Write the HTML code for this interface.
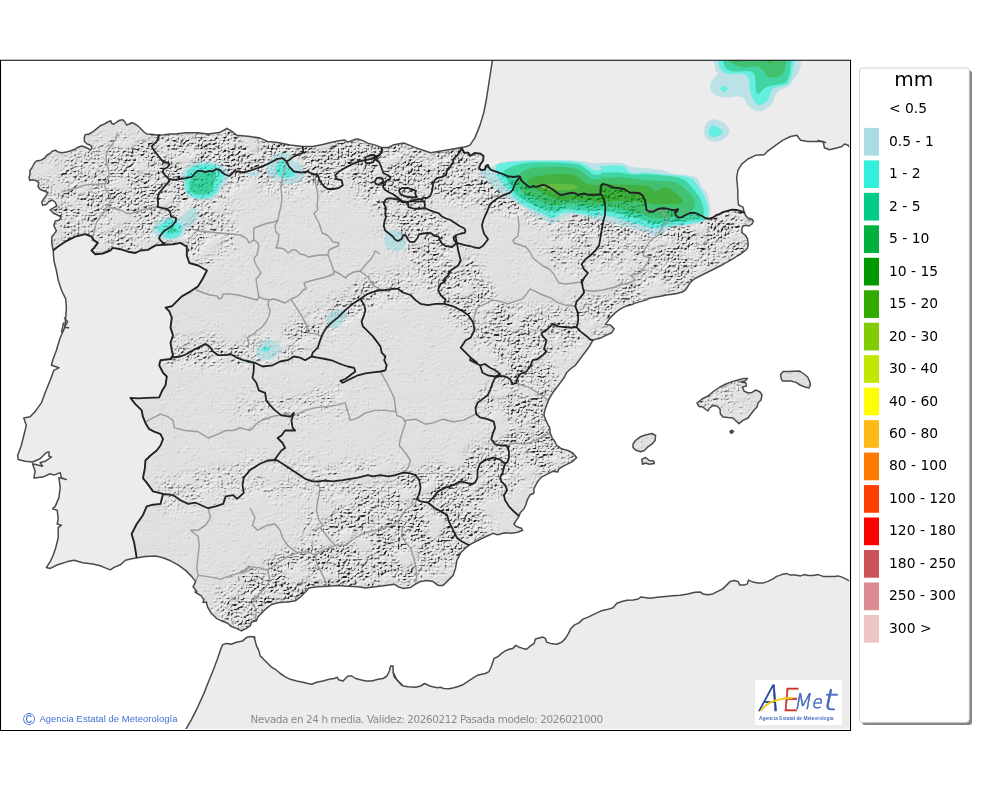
<!DOCTYPE html>
<html lang="es">
<head>
<meta charset="utf-8">
<title>Nevada en 24 h media - AEMET</title>
<style>
html,body{margin:0;padding:0;background:#fff;}
body{width:1000px;height:790px;overflow:hidden;position:relative;font-family:"DejaVu Sans","Liberation Sans",sans-serif;}
svg{position:absolute;left:0;top:0;display:block;}
.ll{font-family:"DejaVu Sans","Liberation Sans",sans-serif;font-size:13.89px;fill:#000;}
.lt{font-family:"DejaVu Sans","Liberation Sans",sans-serif;font-size:20px;fill:#000;}
.ft{font-family:"DejaVu Sans","Liberation Sans",sans-serif;font-size:10.42px;fill:#8a8a8a;}
.cp{font-family:"Liberation Sans",sans-serif;font-size:10px;fill:#3f6fd6;}
</style>
</head>
<body>
<svg width="1000" height="790" viewBox="0 0 1000 790">
<defs>
<clipPath id="frame"><rect x="0.5" y="60.5" width="848.6" height="668.4"/></clipPath>
<clipPath id="spainclip"><path d="M463.9,147.1 L460.7,147.6 L453.1,148.9 L445.6,150.2 L438.1,151.4 L430.6,152.7 L423,150.2 L415.5,147.6 L409.3,145.1 L404.2,143.1 L398,143.9 L393,145.1 L387.9,147.6 L381.7,147.6 L375.4,145.1 L367.9,143.1 L362.9,140.6 L357.9,138.9 L354.1,139.6 L347.8,142.1 L344.8,140.1 L340.3,140.6 L332.8,142.1 L322.7,144.6 L312.7,146.4 L302.7,146.4 L290.2,145.1 L277.6,142.6 L267.6,141.4 L260.1,138.1 L250,136.4 L240,135.6 L237,135.4 L231.9,131.3 L226.9,128.3 L219.4,132.6 L208.1,134.1 L198.1,132.8 L185.6,132.8 L175.5,134.1 L170,134 L164,134.8 L158,135.2 L152,134.3 L146.8,134 L143.8,131.8 L140.8,128.8 L137.8,125.8 L134.8,123.8 L131.8,122.8 L128.8,124.2 L126.5,125 L125,122 L122.8,119.8 L119.8,120.2 L116.8,122 L113.8,124.2 L111.5,123.2 L110.8,120.8 L107.8,122 L104,124.2 L100.2,125.8 L96.5,128.8 L92.8,131.8 L89,134 L85.2,134.8 L84.2,137.8 L84.5,141.5 L86.8,143.8 L90.5,145.2 L92,147.5 L90.5,150.2 L87.5,148.2 L84.5,146.8 L81.5,146 L77.8,147.2 L74.8,149.3 L71,150.8 L66.5,152 L62,152.8 L58.2,152 L55.2,150.2 L52.2,151.2 L50,153.5 L47,155 L44.8,158 L41,160.2 L36.5,161 L34.2,163.2 L32,167.8 L29.8,170.8 L30.2,173.8 L29,177.5 L29.8,180.5 L32,179.8 L35.8,180.5 L38.8,182.8 L38,186.5 L40.2,189.5 L44,191 L47.8,192.5 L46.2,195.5 L44,198.5 L41.8,202.2 L42.5,205.2 L46.2,204.5 L49.2,201.5 L52.2,200 L55.2,202.2 L56.8,206 L53,208.2 L50,209.8 L53.8,213.5 L57.5,215 L61.2,217.2 L59,220.2 L55.2,221 L53.8,225.5 L56.4,230.9 L51.9,236.7 L51.7,242.9 L53.2,250.5 L53.2,250.5 L57.7,246.7 L65.2,241.7 L75.2,236.7 L85.3,234.2 L91.5,236.7 L94,240.4 L97.8,242.9 L94,247.9 L91.5,250.5 L95.3,254.2 L102.8,253.5 L110.3,250.5 L112.8,247.9 L120.4,249.2 L127.9,251.7 L135.4,253 L140.4,250.5 L147.9,249.9 L155.5,245.4 L163,244.9 L173,244.2 L180.5,242.9 L186.8,246.7 L186.8,255.5 L189.3,263 L198.1,265.5 L206.9,270.5 L203.1,278 L201.9,280 L198.1,286.3 L190.6,291.3 L181.8,296.3 L175.5,302.6 L171.8,306.3 L165.5,307.6 L169.3,311.3 L171.8,317.6 L170.5,327.6 L173,335.2 L170.5,342.7 L171.8,350.2 L173,355.2 L170.5,359 L160.5,360.2 L159.2,365.3 L163,372.8 L166.8,376.5 L165.5,385.3 L161.7,391.6 L159.2,397.4 L147.9,397.9 L137.9,398.4 L130.4,397.9 L135.4,404.1 L141.7,410.4 L142.9,416.7 L145.4,422.9 L149.2,429.2 L154.2,431.7 L160.5,434.2 L163,439.2 L160.5,445.5 L156.7,450.5 L150.5,455.5 L145.4,460.5 L144.9,468.1 L142.9,478.1 L146.7,482.6 L153,491.4 L163,493.9 L160.5,503.9 L153,504.7 L146.7,506.4 L142.9,515.2 L136.7,524 L131.6,534 L134.2,542.8 L136.7,557.8 L137.4,557.8 L145.4,556.6 L155.5,556.1 L163,557.8 L170.5,560.8 L178,564.8 L185.6,570.4 L191.8,576.6 L195.6,581.6 L193.1,586.7 L196.8,591.7 L195,592 L201.3,595.8 L203.8,599.5 L203.1,602.5 L206.3,602 L207.6,607 L211.3,613.3 L216.4,618.3 L221.4,620.8 L227.6,623.3 L231.4,626.6 L236.4,628.4 L241.4,630.9 L246.4,628.4 L250.2,625.9 L251.5,622.1 L256.5,620.8 L257.7,617.1 L261.5,613.3 L266.5,608.3 L271.5,604.5 L279,602.5 L287.8,602 L295.3,600.8 L300.4,597 L304.1,593.3 L305.4,592 L309,587.9 L317.7,586.7 L327.8,586.2 L337.8,585.4 L347.8,586.2 L357.9,586.7 L365.4,587.9 L375.4,586.7 L385.4,585.4 L394.2,584.2 L398,586.7 L403,588.4 L410.5,587.4 L415.5,584.2 L420.5,581.6 L426.8,580.4 L433.1,581.6 L438.1,585.4 L443.1,585.4 L448.1,580.4 L453.1,575.4 L455.6,567.9 L456.9,560.3 L460.7,552.8 L465.7,547.8 L469.4,544.8 L475.7,541.5 L483.2,537.8 L490,534.8 L492.6,533.3 L497.6,534.8 L505.1,532.8 L511.4,533.3 L517.6,532.3 L522.7,530.3 L521.4,528.3 L516.4,526.5 L513.9,524 L516.4,520.2 L518.9,516.5 L520.2,512.7 L523.9,509 L525.7,505.2 L527.2,500.2 L530.2,494.7 L533.9,493.2 L533.9,488.9 L535.7,485.1 L537.7,481.4 L541.5,477.1 L547.7,473.9 L552.7,471.3 L557.8,472.1 L559,468.8 L562.8,466.3 L567.8,463.8 L572.8,461.3 L576.6,457.6 L572.8,453 L567.8,450.5 L561.5,448.8 L556.5,445 L554,440 L552.7,439.2 L550.2,433 L549.7,427.9 L546.5,421.7 L544,415.4 L544.7,410.4 L546.5,405.4 L549,399.1 L552.7,392.8 L556.5,387.8 L560.3,382.8 L564,377.8 L566.5,372.8 L570.3,369 L575.3,365.3 L579.1,360.2 L582.8,355.2 L586.6,350.2 L590.4,344.7 L592.9,340.2 L596.6,338.9 L600.4,338.2 L605.4,335.7 L611.7,332.7 L614.2,328.9 L610.4,325.1 L605.4,324.6 L606.7,322.6 L610.4,317.6 L615.4,312.6 L620.5,308.8 L625.5,306.3 L630.5,305.1 L635.5,303.1 L645.5,300.1 L650,298 L654.5,297.2 L660.5,296.2 L666.5,295 L672.5,294.2 L677,293.5 L682.2,292 L685.7,289.8 L687.5,286.8 L689.3,283.8 L692,280.8 L695,278.5 L698,277 L701,275.5 L704,274 L707,272.5 L710,271 L713,269.5 L716,268 L719,266.5 L722,265 L725,263.2 L728,261.7 L731,259.8 L734,258.2 L737,256 L740,254.5 L743,252.2 L746,250 L747.5,247.8 L748.2,244 L747.5,238.8 L745.2,235 L742.2,232.8 L741.8,229 L743,226 L746,225.2 L749,226 L752,223.8 L753.5,221.2 L752,219.2 L747.5,217.8 L745.2,214.8 L744.2,212.2 L744.2,212.2 L744.3,212.7 L741,211.2 L736.5,210 L732,209.7 L727.5,210.8 L723,212.2 L720,213.8 L716.2,215.2 L713.2,217.5 L709.5,218.7 L705.8,218.2 L702,216 L697.5,213.8 L693.8,212.7 L690,213 L685.5,215.2 L681.8,217.2 L678,217.5 L675.8,215.2 L675,212.2 L677.2,211.5 L678,209.2 L675.8,210 L672,210 L667.5,208.8 L663,208.2 L658.5,208.8 L654,211.2 L649.5,211.8 L646.5,210 L645.8,205.5 L645,200.2 L642.8,195.8 L639.8,193.2 L634.5,192.8 L630,192.8 L627.8,191.2 L624,189 L619.5,188.2 L613.5,187.5 L607.5,185.2 L603,183.8 L601.2,185.2 L600.5,189 L600.5,194.2 L596,194.7 L591.5,194.7 L587,194.7 L584,193.5 L581,194.2 L578,195 L575,193.2 L572,192.8 L567.5,193.5 L563.8,194.7 L560,194.7 L557,192.8 L553.2,189.8 L549.5,187.5 L546.5,185.7 L542.8,184.8 L539,186 L536,186.8 L533,186 L530,187.5 L527,185.2 L523.2,182.2 L521,180 L520.2,177 L518,176.2 L513.5,177 L507.5,176.2 L501.5,173.7 L495.5,171.3 L491,169.8 L489.2,168 L488,165 L485.8,165.8 L485,169.5 L481.2,170.2 L479,168 L480.5,164.2 L483.2,160.5 L483.5,156 L480.5,153.8 L474.5,153 L470,156 L468.5,152.8 L464,152.5 L461.7,148ZM697,403 L702,399 L708,396 L714,391 L720,387 L726,384 L732,381.6 L738,380 L744,378.4 L747.6,378.4 L745,381 L741,382 L746,383 L746.4,386 L742.4,387 L744,391 L748,393 L752,392.4 L756,390 L760,392 L762,395 L761,400 L758,403 L757,407 L754,410 L751,414 L748,418 L743,420.4 L739,423.6 L735,420 L733,418 L728,417.6 L723,417 L720.4,414 L720,409 L717,406 L713,405.6 L709.6,408 L708,411 L705,409 L703,407 L699,406.4 L697,403ZM780.6,374.4 L783,371.6 L788,371.6 L794,371.2 L799,371 L801,372 L804,374 L807.6,377 L809.6,381 L810.4,385 L809,388 L805,387 L800,385 L796,382.4 L791,381 L786,381 L782.4,381 L781,378 L780.6,374.4ZM633,444.2 L635.5,440.5 L640.5,436.7 L645.5,435 L651.8,433.5 L655.6,435.5 L655.1,440.5 L651.8,444.2 L648,446.8 L644.3,450.5 L640.5,451.8 L635.5,450 L633,447.5ZM641.8,459.3 L645.5,457.5 L649.3,460.5 L653.6,461 L654.3,463.6 L649.3,464.3 L645.5,463 L642.5,464.3ZM730,431.6 L731.6,430.2 L733.4,431.2 L732.4,433 L730.6,433Z"/></clipPath>

<filter id="mblur" x="-50" y="0" width="1000" height="790" filterUnits="userSpaceOnUse"><feGaussianBlur stdDeviation="8"/></filter>
<filter id="relief" x="0" y="60" width="852" height="671" filterUnits="userSpaceOnUse" color-interpolation-filters="sRGB">
<feTurbulence type="fractalNoise" baseFrequency="0.045 0.06" numOctaves="2" seed="4" result="lf"/>
<feColorMatrix in="lf" type="matrix" values="0 0 0 0 0  0 0 0 0 0  0 0 0 0 0  0 0 0 3.2 -0.7" result="lfa"/>
<feComposite in="SourceGraphic" in2="lfa" operator="in" result="m2"/>
<feTurbulence type="turbulence" baseFrequency="0.3 0.36" numOctaves="3" seed="11" result="n"/>
<feComposite in="n" in2="m2" operator="arithmetic" k1="1" k2="0" k3="-0.5" k4="0.5" result="h"/>
<feDiffuseLighting in="h" surfaceScale="4.6" diffuseConstant="1.0" lighting-color="#fff" result="lit"><feDistantLight azimuth="235" elevation="52"/></feDiffuseLighting>
<feComponentTransfer><feFuncR type="table" tableValues="0.14 0.27 0.4 0.53 0.65 0.75 0.82 0.867 0.88 0.905 0.955"/><feFuncG type="table" tableValues="0.14 0.27 0.4 0.53 0.65 0.75 0.82 0.867 0.88 0.905 0.955"/><feFuncB type="table" tableValues="0.14 0.27 0.4 0.53 0.65 0.75 0.82 0.867 0.88 0.905 0.955"/></feComponentTransfer>
<feGaussianBlur stdDeviation="0.4"/>
</filter>

</defs>
<rect x="0" y="0" width="1000" height="790" fill="#fff"/>
<g clip-path="url(#frame)">
<path d="M492.5,59.5 L486.3,100 L483.8,112.5 L480,125.1 L475,137.6 L470,145.1 L466.5,146.5 L463.9,147.1 L460.7,147.6 L453.1,148.9 L445.6,150.2 L438.1,151.4 L430.6,152.7 L423,150.2 L415.5,147.6 L409.3,145.1 L404.2,143.1 L398,143.9 L393,145.1 L387.9,147.6 L381.7,147.6 L375.4,145.1 L367.9,143.1 L362.9,140.6 L357.9,138.9 L354.1,139.6 L347.8,142.1 L344.8,140.1 L340.3,140.6 L332.8,142.1 L322.7,144.6 L312.7,146.4 L302.7,146.4 L290.2,145.1 L277.6,142.6 L267.6,141.4 L260.1,138.1 L250,136.4 L240,135.6 L237,135.4 L231.9,131.3 L226.9,128.3 L219.4,132.6 L208.1,134.1 L198.1,132.8 L185.6,132.8 L175.5,134.1 L170,134 L164,134.8 L158,135.2 L152,134.3 L146.8,134 L143.8,131.8 L140.8,128.8 L137.8,125.8 L134.8,123.8 L131.8,122.8 L128.8,124.2 L126.5,125 L125,122 L122.8,119.8 L119.8,120.2 L116.8,122 L113.8,124.2 L111.5,123.2 L110.8,120.8 L107.8,122 L104,124.2 L100.2,125.8 L96.5,128.8 L92.8,131.8 L89,134 L85.2,134.8 L84.2,137.8 L84.5,141.5 L86.8,143.8 L90.5,145.2 L92,147.5 L90.5,150.2 L87.5,148.2 L84.5,146.8 L81.5,146 L77.8,147.2 L74.8,149.3 L71,150.8 L66.5,152 L62,152.8 L58.2,152 L55.2,150.2 L52.2,151.2 L50,153.5 L47,155 L44.8,158 L41,160.2 L36.5,161 L34.2,163.2 L32,167.8 L29.8,170.8 L30.2,173.8 L29,177.5 L29.8,180.5 L32,179.8 L35.8,180.5 L38.8,182.8 L38,186.5 L40.2,189.5 L44,191 L47.8,192.5 L46.2,195.5 L44,198.5 L41.8,202.2 L42.5,205.2 L46.2,204.5 L49.2,201.5 L52.2,200 L55.2,202.2 L56.8,206 L53,208.2 L50,209.8 L53.8,213.5 L57.5,215 L61.2,217.2 L59,220.2 L55.2,221 L53.8,225.5 L56.4,230.9 L51.9,236.7 L51.7,242.9 L53.2,250.5 L53.9,260.5 L56.4,270.5 L58.2,280 L58.2,280 L61.4,290 L65.7,298.8 L66.4,307.6 L65.7,317.6 L64.7,327.6 L60.2,337.7 L56.4,350.2 L52.7,360.2 L51.4,365.3 L58.9,367.8 L53.9,370.3 L50.2,380.3 L45.1,392.8 L41.4,402.9 L35.1,411.6 L30.1,416.7 L23.8,417.9 L26.3,425.4 L23.8,435.5 L21.3,445.5 L18.1,454.3 L17.6,455 L18.1,459.5 L25.1,461.3 L32.6,462 L40.1,458.8 L46.4,452.5 L49.1,452 L48.9,456.3 L51.4,457 L45.1,461.3 L40.1,462.5 L42.6,466.3 L37.6,465 L32.6,463.8 L35.1,471.3 L33.9,478.1 L42.6,477.1 L50.2,473.8 L53.9,475.1 L60.2,472.6 L61.4,477.6 L66.4,479.6 L58.9,477.6 L60.2,487.6 L58.9,497.6 L55.2,506.4 L52.7,508.9 L57.2,510.2 L58.2,519 L57.2,524 L61.4,525.2 L58.2,527.7 L58.2,537.8 L55.7,547.8 L53.2,555.3 L50.2,561.6 L46.4,567.4 L50.2,568.4 L57.7,564.8 L67.7,561.6 L74,560.3 L82.7,562.8 L92.8,564.1 L100.3,565.8 L105.3,567.9 L110.3,569.9 L114.1,567.4 L120.4,564.8 L125.4,560.3 L130.4,559.1 L137.4,557.8 L137.4,557.8 L145.4,556.6 L155.5,556.1 L163,557.8 L170.5,560.8 L178,564.8 L185.6,570.4 L191.8,576.6 L195.6,581.6 L193.1,586.7 L196.8,591.7 L195,592 L201.3,595.8 L203.8,599.5 L203.1,602.5 L206.3,602 L207.6,607 L211.3,613.3 L216.4,618.3 L221.4,620.8 L227.6,623.3 L231.4,626.6 L236.4,628.4 L241.4,630.9 L246.4,628.4 L250.2,625.9 L251.5,622.1 L256.5,620.8 L257.7,617.1 L261.5,613.3 L266.5,608.3 L271.5,604.5 L279,602.5 L287.8,602 L295.3,600.8 L300.4,597 L304.1,593.3 L305.4,592 L309,587.9 L317.7,586.7 L327.8,586.2 L337.8,585.4 L347.8,586.2 L357.9,586.7 L365.4,587.9 L375.4,586.7 L385.4,585.4 L394.2,584.2 L398,586.7 L403,588.4 L410.5,587.4 L415.5,584.2 L420.5,581.6 L426.8,580.4 L433.1,581.6 L438.1,585.4 L443.1,585.4 L448.1,580.4 L453.1,575.4 L455.6,567.9 L456.9,560.3 L460.7,552.8 L465.7,547.8 L469.4,544.8 L475.7,541.5 L483.2,537.8 L490,534.8 L492.6,533.3 L497.6,534.8 L505.1,532.8 L511.4,533.3 L517.6,532.3 L522.7,530.3 L521.4,528.3 L516.4,526.5 L513.9,524 L516.4,520.2 L518.9,516.5 L520.2,512.7 L523.9,509 L525.7,505.2 L527.2,500.2 L530.2,494.7 L533.9,493.2 L533.9,488.9 L535.7,485.1 L537.7,481.4 L541.5,477.1 L547.7,473.9 L552.7,471.3 L557.8,472.1 L559,468.8 L562.8,466.3 L567.8,463.8 L572.8,461.3 L576.6,457.6 L572.8,453 L567.8,450.5 L561.5,448.8 L556.5,445 L554,440 L552.7,439.2 L550.2,433 L549.7,427.9 L546.5,421.7 L544,415.4 L544.7,410.4 L546.5,405.4 L549,399.1 L552.7,392.8 L556.5,387.8 L560.3,382.8 L564,377.8 L566.5,372.8 L570.3,369 L575.3,365.3 L579.1,360.2 L582.8,355.2 L586.6,350.2 L590.4,344.7 L592.9,340.2 L596.6,338.9 L600.4,338.2 L605.4,335.7 L611.7,332.7 L614.2,328.9 L610.4,325.1 L605.4,324.6 L606.7,322.6 L610.4,317.6 L615.4,312.6 L620.5,308.8 L625.5,306.3 L630.5,305.1 L635.5,303.1 L645.5,300.1 L650,298 L654.5,297.2 L660.5,296.2 L666.5,295 L672.5,294.2 L677,293.5 L682.2,292 L685.7,289.8 L687.5,286.8 L689.3,283.8 L692,280.8 L695,278.5 L698,277 L701,275.5 L704,274 L707,272.5 L710,271 L713,269.5 L716,268 L719,266.5 L722,265 L725,263.2 L728,261.7 L731,259.8 L734,258.2 L737,256 L740,254.5 L743,252.2 L746,250 L747.5,247.8 L748.2,244 L747.5,238.8 L745.2,235 L742.2,232.8 L741.8,229 L743,226 L746,225.2 L749,226 L752,223.8 L753.5,221.2 L752,219.2 L747.5,217.8 L745.2,214.8 L744.2,212.2 L743,207.2 L738.5,205 L737.8,197.5 L737.8,190 L736.7,177.9 L737.9,170.3 L741.7,164.1 L747.9,159 L755.5,155.3 L764.2,154.8 L768,150.8 L775.5,145.3 L783,140.2 L790.6,136.5 L796.8,135.2 L800.6,140.2 L808.1,141.5 L815.6,141.5 L823.2,141.5 L824.4,147.8 L829.4,149.8 L835.7,148.3 L842,146.5 L844.5,144 L848.2,145.3 L850,147.8 L852,148 L852,59.5Z" fill="#ececec"/>
<path d="M185.5,729.9 L191.3,719.9 L197.6,707.3 L203.8,693.6 L208.8,681 L213.9,668.5 L217.6,658.4 L220.1,650.9 L222.6,644.7 L226.4,643.4 L231.4,644.2 L236.4,642.2 L242.7,640.9 L246.4,637.6 L250.2,636.6 L254,637.1 L255.2,640.9 L256.5,645.9 L259,650.9 L260.2,655.9 L264,659.7 L267.8,663.5 L271.5,667.2 L276.5,670.2 L280.3,673.5 L285.3,676.8 L290.3,679.3 L296.6,681 L302.9,682.3 L307.9,683.5 L311.6,684.3 L316.7,682.3 L322.9,681 L329.2,679.3 L334.2,678.5 L337.5,677.3 L338.5,679.8 L343,681 L345.5,678.5 L348,676 L351.8,676 L355.5,678.5 L360.5,679.8 L365.6,681 L371.8,681 L378.1,679.3 L383.1,678.5 L386.9,676 L389.4,671 L390.6,666 L393.1,666 L393.1,672.2 L394.4,677.3 L398.2,681 L403.2,686 L408.2,686.8 L415.7,687.3 L420.7,686 L424.5,683.5 L430,686 L432.6,686.8 L437.6,687.8 L440.1,687.3 L443.9,688.5 L448.9,688.8 L453.9,687.8 L458.9,686.3 L462.7,684.8 L466.4,682.3 L470.2,679.8 L474,677.3 L477.7,675.2 L481.5,674.2 L485.3,673.5 L489,671.7 L491.5,666 L494,658.4 L497.8,656.7 L501.6,653.4 L505.3,650.9 L509.1,649.2 L512.8,648.4 L515.8,645.4 L519.1,647.2 L522.9,648.4 L526.6,649.2 L530.4,645.9 L534.2,643.4 L535.4,638.9 L539.2,637.9 L542.9,637.1 L545.4,638.4 L546.7,642.2 L550.5,643.4 L556.7,644.2 L561.7,642.2 L565.5,638.4 L568.5,633.4 L570.5,629.1 L574.3,625.1 L579.3,622.6 L583,619.1 L588.1,617.1 L594.3,614.1 L600.6,611.1 L606.9,609.6 L613.1,607.8 L616.9,603.3 L621.9,601.5 L626.9,600.3 L633.2,600 L638.2,599 L640.7,597 L644.5,597.5 L650,598.3 L657.6,597.2 L665.1,596.4 L672.7,595.7 L680.2,595.2 L687.7,593.9 L695.2,592.2 L700.2,591.9 L702.7,593.9 L707.8,594.7 L712.8,593.9 L717.8,591.4 L722.8,588.9 L726.6,585.1 L730.3,581.4 L734.1,580.6 L737.9,581.4 L739.9,585.1 L744.1,585.1 L747.4,583.9 L748.4,580.1 L752.9,582.1 L757.9,583.1 L762.9,583.1 L767.9,581.4 L773,578.9 L776.7,576.4 L781.7,574.6 L786.8,573.6 L790.5,575.1 L795.5,575.1 L800.5,575.9 L804.3,574.6 L808.1,575.6 L813.1,575.6 L818.1,574.6 L823.1,576.4 L828.1,576.4 L834.4,576.4 L838.2,575.9 L841.9,577.1 L845.7,578.9 L850.2,581.4 L852,581 L852,731 L185.5,731Z" fill="#ececec"/>
<path d="M463.9,147.1 L460.7,147.6 L453.1,148.9 L445.6,150.2 L438.1,151.4 L430.6,152.7 L423,150.2 L415.5,147.6 L409.3,145.1 L404.2,143.1 L398,143.9 L393,145.1 L387.9,147.6 L381.7,147.6 L375.4,145.1 L367.9,143.1 L362.9,140.6 L357.9,138.9 L354.1,139.6 L347.8,142.1 L344.8,140.1 L340.3,140.6 L332.8,142.1 L322.7,144.6 L312.7,146.4 L302.7,146.4 L290.2,145.1 L277.6,142.6 L267.6,141.4 L260.1,138.1 L250,136.4 L240,135.6 L237,135.4 L231.9,131.3 L226.9,128.3 L219.4,132.6 L208.1,134.1 L198.1,132.8 L185.6,132.8 L175.5,134.1 L170,134 L164,134.8 L158,135.2 L152,134.3 L146.8,134 L143.8,131.8 L140.8,128.8 L137.8,125.8 L134.8,123.8 L131.8,122.8 L128.8,124.2 L126.5,125 L125,122 L122.8,119.8 L119.8,120.2 L116.8,122 L113.8,124.2 L111.5,123.2 L110.8,120.8 L107.8,122 L104,124.2 L100.2,125.8 L96.5,128.8 L92.8,131.8 L89,134 L85.2,134.8 L84.2,137.8 L84.5,141.5 L86.8,143.8 L90.5,145.2 L92,147.5 L90.5,150.2 L87.5,148.2 L84.5,146.8 L81.5,146 L77.8,147.2 L74.8,149.3 L71,150.8 L66.5,152 L62,152.8 L58.2,152 L55.2,150.2 L52.2,151.2 L50,153.5 L47,155 L44.8,158 L41,160.2 L36.5,161 L34.2,163.2 L32,167.8 L29.8,170.8 L30.2,173.8 L29,177.5 L29.8,180.5 L32,179.8 L35.8,180.5 L38.8,182.8 L38,186.5 L40.2,189.5 L44,191 L47.8,192.5 L46.2,195.5 L44,198.5 L41.8,202.2 L42.5,205.2 L46.2,204.5 L49.2,201.5 L52.2,200 L55.2,202.2 L56.8,206 L53,208.2 L50,209.8 L53.8,213.5 L57.5,215 L61.2,217.2 L59,220.2 L55.2,221 L53.8,225.5 L56.4,230.9 L51.9,236.7 L51.7,242.9 L53.2,250.5 L53.2,250.5 L57.7,246.7 L65.2,241.7 L75.2,236.7 L85.3,234.2 L91.5,236.7 L94,240.4 L97.8,242.9 L94,247.9 L91.5,250.5 L95.3,254.2 L102.8,253.5 L110.3,250.5 L112.8,247.9 L120.4,249.2 L127.9,251.7 L135.4,253 L140.4,250.5 L147.9,249.9 L155.5,245.4 L163,244.9 L173,244.2 L180.5,242.9 L186.8,246.7 L186.8,255.5 L189.3,263 L198.1,265.5 L206.9,270.5 L203.1,278 L201.9,280 L198.1,286.3 L190.6,291.3 L181.8,296.3 L175.5,302.6 L171.8,306.3 L165.5,307.6 L169.3,311.3 L171.8,317.6 L170.5,327.6 L173,335.2 L170.5,342.7 L171.8,350.2 L173,355.2 L170.5,359 L160.5,360.2 L159.2,365.3 L163,372.8 L166.8,376.5 L165.5,385.3 L161.7,391.6 L159.2,397.4 L147.9,397.9 L137.9,398.4 L130.4,397.9 L135.4,404.1 L141.7,410.4 L142.9,416.7 L145.4,422.9 L149.2,429.2 L154.2,431.7 L160.5,434.2 L163,439.2 L160.5,445.5 L156.7,450.5 L150.5,455.5 L145.4,460.5 L144.9,468.1 L142.9,478.1 L146.7,482.6 L153,491.4 L163,493.9 L160.5,503.9 L153,504.7 L146.7,506.4 L142.9,515.2 L136.7,524 L131.6,534 L134.2,542.8 L136.7,557.8 L137.4,557.8 L145.4,556.6 L155.5,556.1 L163,557.8 L170.5,560.8 L178,564.8 L185.6,570.4 L191.8,576.6 L195.6,581.6 L193.1,586.7 L196.8,591.7 L195,592 L201.3,595.8 L203.8,599.5 L203.1,602.5 L206.3,602 L207.6,607 L211.3,613.3 L216.4,618.3 L221.4,620.8 L227.6,623.3 L231.4,626.6 L236.4,628.4 L241.4,630.9 L246.4,628.4 L250.2,625.9 L251.5,622.1 L256.5,620.8 L257.7,617.1 L261.5,613.3 L266.5,608.3 L271.5,604.5 L279,602.5 L287.8,602 L295.3,600.8 L300.4,597 L304.1,593.3 L305.4,592 L309,587.9 L317.7,586.7 L327.8,586.2 L337.8,585.4 L347.8,586.2 L357.9,586.7 L365.4,587.9 L375.4,586.7 L385.4,585.4 L394.2,584.2 L398,586.7 L403,588.4 L410.5,587.4 L415.5,584.2 L420.5,581.6 L426.8,580.4 L433.1,581.6 L438.1,585.4 L443.1,585.4 L448.1,580.4 L453.1,575.4 L455.6,567.9 L456.9,560.3 L460.7,552.8 L465.7,547.8 L469.4,544.8 L475.7,541.5 L483.2,537.8 L490,534.8 L492.6,533.3 L497.6,534.8 L505.1,532.8 L511.4,533.3 L517.6,532.3 L522.7,530.3 L521.4,528.3 L516.4,526.5 L513.9,524 L516.4,520.2 L518.9,516.5 L520.2,512.7 L523.9,509 L525.7,505.2 L527.2,500.2 L530.2,494.7 L533.9,493.2 L533.9,488.9 L535.7,485.1 L537.7,481.4 L541.5,477.1 L547.7,473.9 L552.7,471.3 L557.8,472.1 L559,468.8 L562.8,466.3 L567.8,463.8 L572.8,461.3 L576.6,457.6 L572.8,453 L567.8,450.5 L561.5,448.8 L556.5,445 L554,440 L552.7,439.2 L550.2,433 L549.7,427.9 L546.5,421.7 L544,415.4 L544.7,410.4 L546.5,405.4 L549,399.1 L552.7,392.8 L556.5,387.8 L560.3,382.8 L564,377.8 L566.5,372.8 L570.3,369 L575.3,365.3 L579.1,360.2 L582.8,355.2 L586.6,350.2 L590.4,344.7 L592.9,340.2 L596.6,338.9 L600.4,338.2 L605.4,335.7 L611.7,332.7 L614.2,328.9 L610.4,325.1 L605.4,324.6 L606.7,322.6 L610.4,317.6 L615.4,312.6 L620.5,308.8 L625.5,306.3 L630.5,305.1 L635.5,303.1 L645.5,300.1 L650,298 L654.5,297.2 L660.5,296.2 L666.5,295 L672.5,294.2 L677,293.5 L682.2,292 L685.7,289.8 L687.5,286.8 L689.3,283.8 L692,280.8 L695,278.5 L698,277 L701,275.5 L704,274 L707,272.5 L710,271 L713,269.5 L716,268 L719,266.5 L722,265 L725,263.2 L728,261.7 L731,259.8 L734,258.2 L737,256 L740,254.5 L743,252.2 L746,250 L747.5,247.8 L748.2,244 L747.5,238.8 L745.2,235 L742.2,232.8 L741.8,229 L743,226 L746,225.2 L749,226 L752,223.8 L753.5,221.2 L752,219.2 L747.5,217.8 L745.2,214.8 L744.2,212.2 L744.2,212.2 L744.3,212.7 L741,211.2 L736.5,210 L732,209.7 L727.5,210.8 L723,212.2 L720,213.8 L716.2,215.2 L713.2,217.5 L709.5,218.7 L705.8,218.2 L702,216 L697.5,213.8 L693.8,212.7 L690,213 L685.5,215.2 L681.8,217.2 L678,217.5 L675.8,215.2 L675,212.2 L677.2,211.5 L678,209.2 L675.8,210 L672,210 L667.5,208.8 L663,208.2 L658.5,208.8 L654,211.2 L649.5,211.8 L646.5,210 L645.8,205.5 L645,200.2 L642.8,195.8 L639.8,193.2 L634.5,192.8 L630,192.8 L627.8,191.2 L624,189 L619.5,188.2 L613.5,187.5 L607.5,185.2 L603,183.8 L601.2,185.2 L600.5,189 L600.5,194.2 L596,194.7 L591.5,194.7 L587,194.7 L584,193.5 L581,194.2 L578,195 L575,193.2 L572,192.8 L567.5,193.5 L563.8,194.7 L560,194.7 L557,192.8 L553.2,189.8 L549.5,187.5 L546.5,185.7 L542.8,184.8 L539,186 L536,186.8 L533,186 L530,187.5 L527,185.2 L523.2,182.2 L521,180 L520.2,177 L518,176.2 L513.5,177 L507.5,176.2 L501.5,173.7 L495.5,171.3 L491,169.8 L489.2,168 L488,165 L485.8,165.8 L485,169.5 L481.2,170.2 L479,168 L480.5,164.2 L483.2,160.5 L483.5,156 L480.5,153.8 L474.5,153 L470,156 L468.5,152.8 L464,152.5 L461.7,148ZM697,403 L702,399 L708,396 L714,391 L720,387 L726,384 L732,381.6 L738,380 L744,378.4 L747.6,378.4 L745,381 L741,382 L746,383 L746.4,386 L742.4,387 L744,391 L748,393 L752,392.4 L756,390 L760,392 L762,395 L761,400 L758,403 L757,407 L754,410 L751,414 L748,418 L743,420.4 L739,423.6 L735,420 L733,418 L728,417.6 L723,417 L720.4,414 L720,409 L717,406 L713,405.6 L709.6,408 L708,411 L705,409 L703,407 L699,406.4 L697,403ZM780.6,374.4 L783,371.6 L788,371.6 L794,371.2 L799,371 L801,372 L804,374 L807.6,377 L809.6,381 L810.4,385 L809,388 L805,387 L800,385 L796,382.4 L791,381 L786,381 L782.4,381 L781,378 L780.6,374.4ZM633,444.2 L635.5,440.5 L640.5,436.7 L645.5,435 L651.8,433.5 L655.6,435.5 L655.1,440.5 L651.8,444.2 L648,446.8 L644.3,450.5 L640.5,451.8 L635.5,450 L633,447.5ZM641.8,459.3 L645.5,457.5 L649.3,460.5 L653.6,461 L654.3,463.6 L649.3,464.3 L645.5,463 L642.5,464.3ZM730,431.6 L731.6,430.2 L733.4,431.2 L732.4,433 L730.6,433Z" fill="#fdfdfd"/>
<g clip-path="url(#spainclip)"><g filter="url(#relief)"><g filter="url(#mblur)" opacity="1"><rect x="0" y="60" width="852" height="671" fill="#000" opacity="0.16"/><path d="M150,165 L200,160 L250,158 L330,162 L400,168 L460,170" fill="none" stroke="#000" stroke-opacity="1.0" stroke-width="56" stroke-linecap="round" stroke-linejoin="round"/><path d="M60,195 L100,175 L150,165" fill="none" stroke="#000" stroke-opacity="0.7" stroke-width="60" stroke-linecap="round" stroke-linejoin="round"/><path d="M75,230 L150,215 L195,225" fill="none" stroke="#000" stroke-opacity="0.65" stroke-width="80" stroke-linecap="round" stroke-linejoin="round"/><path d="M170,190 L185,240" fill="none" stroke="#000" stroke-opacity="0.8" stroke-width="44" stroke-linecap="round" stroke-linejoin="round"/><path d="M470,175 L540,190 L620,205 L700,222 L745,228" fill="none" stroke="#000" stroke-opacity="1.0" stroke-width="56" stroke-linecap="round" stroke-linejoin="round"/><path d="M560,250 L640,245 L710,245" fill="none" stroke="#000" stroke-opacity="0.6" stroke-width="40" stroke-linecap="round" stroke-linejoin="round"/><path d="M400,210 L430,245 L455,280 L490,320 L520,350 L535,390" fill="none" stroke="#000" stroke-opacity="0.8" stroke-width="50" stroke-linecap="round" stroke-linejoin="round"/><path d="M520,330 L560,330 L600,315 L650,290 L700,265 L735,240" fill="none" stroke="#000" stroke-opacity="0.75" stroke-width="40" stroke-linecap="round" stroke-linejoin="round"/><path d="M165,352 L215,352 L260,352 L300,340 L335,314 L365,294 L400,286" fill="none" stroke="#000" stroke-opacity="1.0" stroke-width="20" stroke-linecap="round" stroke-linejoin="round"/><path d="M250,410 L300,405 L340,400" fill="none" stroke="#000" stroke-opacity="0.45" stroke-width="24" stroke-linecap="round" stroke-linejoin="round"/><path d="M170,495 L230,480 L300,478 L370,480 L420,485" fill="none" stroke="#000" stroke-opacity="0.5" stroke-width="30" stroke-linecap="round" stroke-linejoin="round"/><path d="M245,605 L280,585 L320,575 L370,565 L420,550 L460,525" fill="none" stroke="#000" stroke-opacity="1.0" stroke-width="56" stroke-linecap="round" stroke-linejoin="round"/><path d="M330,530 L380,515 L430,500 L470,480 L520,455 L565,448" fill="none" stroke="#000" stroke-opacity="0.8" stroke-width="50" stroke-linecap="round" stroke-linejoin="round"/><path d="M500,400 L530,420 L540,445" fill="none" stroke="#000" stroke-opacity="0.7" stroke-width="40" stroke-linecap="round" stroke-linejoin="round"/><path d="M700,400 L720,388 L745,380" fill="none" stroke="#000" stroke-opacity="1.0" stroke-width="14" stroke-linecap="round" stroke-linejoin="round"/><path d="M633,448 L637,446 L645,441" fill="none" stroke="#000" stroke-opacity="0.6" stroke-width="8" stroke-linecap="round" stroke-linejoin="round"/><path d="M715,405 L730,410 L745,405" fill="none" stroke="#000" stroke-opacity="0.35" stroke-width="14" stroke-linecap="round" stroke-linejoin="round"/><path d="M785,376 L805,380" fill="none" stroke="#000" stroke-opacity="0.3" stroke-width="6" stroke-linecap="round" stroke-linejoin="round"/></g></g></g>
<g opacity="0.72"><path d="M479.8,171.0 C479.8,169.4 482.9,169.6 485.0,168.8 C487.1,168.1 490.0,167.5 492.5,166.5 C495.0,165.5 497.2,163.7 500.0,162.8 C502.8,161.9 505.2,161.6 509.0,161.2 C512.8,160.8 517.8,160.7 522.5,160.5 C527.2,160.3 532.5,160.2 537.5,160.2 C542.5,160.1 547.5,160.2 552.5,160.2 C557.5,160.2 563.2,160.1 567.5,160.2 C571.8,160.3 574.8,160.5 578.0,160.8 C581.2,161.1 584.2,161.6 587.0,162.0 C589.8,162.4 592.3,163.4 594.5,163.5 C596.7,163.6 597.6,162.9 600.0,162.8 C602.4,162.7 605.8,162.8 609.0,162.8 C612.2,162.8 616.8,162.6 619.5,162.8 C622.2,163.0 623.8,163.6 625.5,164.2 C627.2,164.8 628.0,165.9 630.0,166.5 C632.0,167.1 635.0,167.4 637.5,167.7 C640.0,167.9 642.2,167.8 645.0,168.0 C647.8,168.2 651.0,168.8 654.0,169.2 C657.0,169.6 660.5,169.6 663.0,170.2 C665.5,170.8 667.0,171.9 669.0,172.5 C671.0,173.1 672.5,173.6 675.0,174.0 C677.5,174.4 681.0,174.4 684.0,174.8 C687.0,175.2 690.8,175.6 693.0,176.2 C695.2,176.8 696.4,177.4 697.5,178.5 C698.6,179.6 699.0,181.5 699.8,183.0 C700.5,184.5 701.0,186.1 702.0,187.5 C703.0,188.9 704.8,189.7 705.8,191.2 C706.8,192.7 707.4,194.6 708.0,196.5 C708.6,198.4 709.0,200.2 709.5,202.5 C710.0,204.8 710.6,208.0 710.7,210.0 C710.8,212.0 710.7,213.1 710.2,214.5 C709.8,215.9 708.9,217.7 708.0,218.7 C707.1,219.7 706.8,219.7 705.0,220.5 C703.2,221.3 700.0,222.8 697.5,223.5 C695.0,224.2 692.5,224.6 690.0,225.0 C687.5,225.4 685.0,225.6 682.5,225.8 C680.0,226.1 677.5,225.9 675.0,226.5 C672.5,227.1 670.0,228.2 667.5,229.5 C665.0,230.8 662.0,232.9 660.0,234.0 C658.0,235.1 657.0,236.2 655.5,236.2 C654.0,236.2 652.8,234.7 651.0,234.0 C649.2,233.3 647.2,232.6 645.0,231.8 C642.8,231.1 640.0,230.3 637.5,229.5 C635.0,228.7 632.5,227.8 630.0,227.2 C627.5,226.6 625.0,226.4 622.5,225.8 C620.0,225.2 617.5,224.3 615.0,223.5 C612.5,222.7 610.0,221.8 607.5,221.2 C605.0,220.6 601.7,219.9 600.0,219.8 C598.3,219.7 599.2,220.8 597.5,220.5 C595.8,220.2 592.5,218.9 590.0,218.2 C587.5,217.4 585.0,216.6 582.5,216.0 C580.0,215.4 577.2,214.8 575.0,214.5 C572.8,214.2 571.0,214.0 569.0,214.5 C567.0,215.0 565.0,216.2 563.0,217.5 C561.0,218.8 559.0,221.0 557.0,222.0 C555.0,223.0 553.0,223.8 551.0,223.5 C549.0,223.2 547.2,221.8 545.0,220.5 C542.8,219.2 540.0,217.5 537.5,216.0 C535.0,214.5 532.5,213.0 530.0,211.5 C527.5,210.0 525.0,208.6 522.5,207.0 C520.0,205.4 517.5,203.4 515.0,201.8 C512.5,200.2 510.0,198.8 507.5,197.2 C505.0,195.6 502.5,193.9 500.0,192.0 C497.5,190.1 495.0,188.2 492.5,186.0 C490.0,183.8 487.1,181.0 485.0,178.5 C482.9,176.0 479.8,172.6 479.8,171.0ZM714.1,39.9 C699.7,43.0 713.9,53.7 714.1,58.7 C714.3,63.7 714.7,67.5 715.3,70.0 C715.9,72.5 718.5,71.9 717.9,73.8 C717.3,75.7 712.9,78.8 711.6,81.3 C710.3,83.8 709.7,86.5 710.3,88.8 C710.9,91.1 712.8,93.6 715.3,95.1 C717.8,96.6 722.0,97.4 725.4,97.6 C728.8,97.8 732.5,96.4 735.4,96.4 C738.3,96.4 740.8,96.1 742.9,97.6 C745.0,99.0 746.0,103.0 747.9,105.1 C749.8,107.2 752.1,109.2 754.2,110.2 C756.3,111.2 758.2,111.8 760.5,111.4 C762.8,111.0 765.9,109.1 768.0,107.6 C770.1,106.1 771.8,104.7 773.0,102.6 C774.2,100.5 774.2,97.2 775.5,95.1 C776.8,93.0 778.4,91.6 780.5,90.1 C782.6,88.6 786.0,88.0 788.1,86.3 C790.2,84.6 791.4,82.4 793.1,80.1 C794.8,77.8 796.9,74.8 798.1,72.5 C799.4,70.2 800.2,68.6 800.6,66.3 C801.0,64.0 800.6,63.1 800.6,58.7 C800.6,54.3 815.0,43.0 800.6,39.9 C786.2,36.8 728.5,36.8 714.1,39.9ZM704.1,130.7 C704.2,128.6 704.5,125.7 705.8,123.9 C707.0,122.1 709.4,120.3 711.6,119.7 C713.8,119.1 716.6,119.3 719.1,120.2 C721.6,121.1 724.9,123.3 726.6,125.2 C728.3,127.1 729.3,129.4 729.1,131.5 C728.9,133.6 727.3,136.0 725.4,137.7 C723.5,139.4 720.4,141.0 717.9,141.5 C715.4,142.0 712.4,141.5 710.3,140.7 C708.2,139.9 706.3,138.2 705.3,136.5 C704.3,134.8 704.0,132.8 704.1,130.7ZM180.8,176.8 C180.8,174.9 182.4,171.9 183.8,170.0 C185.2,168.1 186.9,166.8 189.0,165.5 C191.1,164.2 193.8,163.2 196.5,162.5 C199.2,161.8 202.5,161.4 205.5,161.3 C208.5,161.2 211.8,161.5 214.5,162.2 C217.2,162.9 220.0,164.2 222.0,165.5 C224.0,166.8 225.2,168.6 226.5,170.0 C227.8,171.4 229.2,172.3 229.5,173.8 C229.8,175.3 228.9,177.1 228.0,179.0 C227.1,180.9 225.4,183.0 224.2,185.0 C222.9,187.0 221.9,189.1 220.5,191.0 C219.1,192.9 217.8,194.8 216.0,196.2 C214.2,197.6 212.2,198.6 210.0,199.2 C207.8,199.8 205.0,200.0 202.5,200.0 C200.0,200.0 197.2,199.7 195.0,199.2 C192.8,198.7 190.6,198.1 189.0,197.0 C187.4,195.9 186.0,194.2 185.2,192.5 C184.4,190.8 184.4,188.4 184.2,186.5 C184.0,184.6 184.4,182.8 183.8,181.2 C183.2,179.6 180.8,178.7 180.8,176.8ZM152.7,230.0 C152.7,228.2 153.4,225.6 154.5,224.0 C155.6,222.4 157.2,221.2 159.0,220.2 C160.8,219.1 163.0,218.3 165.0,217.7 C167.0,217.1 169.1,216.8 171.0,216.8 C172.9,216.9 174.7,217.4 176.2,218.0 C177.7,218.6 178.7,219.2 180.0,220.2 C181.3,221.2 182.8,222.6 183.8,224.0 C184.8,225.4 185.8,227.0 186.0,228.5 C186.2,230.0 185.6,231.6 184.8,233.0 C184.1,234.4 182.8,235.8 181.5,236.8 C180.2,237.8 178.8,238.4 177.0,239.0 C175.2,239.6 173.0,240.1 171.0,240.2 C169.0,240.3 167.0,240.2 165.0,239.8 C163.0,239.4 160.8,238.4 159.0,237.5 C157.2,236.6 155.6,235.8 154.5,234.5 C153.4,233.2 152.7,231.8 152.7,230.0ZM177.8,219.5 C178.3,218.4 181.3,216.5 183.0,215.0 C184.7,213.5 186.4,211.8 188.2,210.5 C189.9,209.2 192.0,207.6 193.5,207.5 C195.0,207.4 196.4,208.6 197.2,209.8 C197.9,211.1 198.2,213.3 198.0,215.0 C197.8,216.7 196.8,218.6 195.8,220.2 C194.8,221.8 193.4,223.5 192.0,224.8 C190.6,226.1 188.9,227.7 187.5,227.8 C186.1,227.9 185.1,226.5 183.8,225.5 C182.6,224.5 181.0,222.8 180.0,221.8 C179.0,220.8 177.3,220.6 177.8,219.5ZM266.2,170.0 C266.4,168.1 267.6,164.6 268.5,162.5 C269.4,160.4 270.0,158.7 271.5,157.2 C273.0,155.7 275.2,154.2 277.5,153.5 C279.8,152.8 282.9,152.6 285.0,152.8 C287.1,153.1 288.9,153.9 290.2,155.0 C291.4,156.1 291.2,158.2 292.5,159.5 C293.8,160.8 296.3,161.6 297.8,162.5 C299.3,163.4 300.6,163.6 301.5,164.8 C302.4,166.1 302.9,168.1 303.0,170.0 C303.1,171.9 302.7,174.2 302.2,176.0 C301.7,177.8 301.4,179.2 300.0,180.5 C298.6,181.8 296.0,182.9 294.0,183.5 C292.0,184.1 290.0,184.4 288.0,184.2 C286.0,183.9 284.0,182.7 282.0,182.0 C280.0,181.3 278.0,180.7 276.0,179.8 C274.0,178.9 271.5,177.8 270.0,176.8 C268.5,175.8 267.6,174.9 267.0,173.8 C266.4,172.7 265.9,171.9 266.2,170.0ZM246.0,173.3 C246.0,172.7 247.5,172.1 249.0,171.8 C250.5,171.5 253.1,171.3 255.0,171.5 C256.9,171.7 259.4,172.1 260.2,172.7 C260.9,173.2 260.4,174.3 259.5,174.8 C258.6,175.3 256.8,175.6 255.0,175.7 C253.2,175.8 250.5,175.8 249.0,175.4 C247.5,175.0 246.0,173.9 246.0,173.3ZM256.0,352.0 C256.1,350.2 256.6,347.6 257.5,346.0 C258.4,344.4 259.7,343.2 261.2,342.2 C262.7,341.2 264.6,340.3 266.5,340.0 C268.4,339.7 270.6,339.8 272.5,340.3 C274.4,340.8 276.4,341.8 277.8,343.0 C279.2,344.2 280.4,345.9 280.8,347.5 C281.2,349.1 280.6,351.3 280.0,352.8 C279.4,354.3 278.2,355.5 277.0,356.5 C275.8,357.5 274.2,358.2 272.5,358.8 C270.8,359.4 268.5,359.7 266.5,359.8 C264.5,359.9 262.1,359.8 260.5,359.2 C258.9,358.6 257.6,357.7 256.8,356.5 C256.1,355.3 255.9,353.8 256.0,352.0ZM245.5,361.0 C245.8,360.3 247.4,359.9 248.5,359.8 C249.6,359.7 251.3,359.8 252.2,360.2 C253.1,360.6 253.9,361.6 253.8,362.2 C253.7,362.8 252.6,363.7 251.5,364.0 C250.4,364.3 248.0,364.5 247.0,364.0 C246.0,363.5 245.2,361.7 245.5,361.0ZM327.2,320.5 C327.2,318.7 328.0,316.7 328.8,315.2 C329.6,313.7 330.6,312.4 331.8,311.5 C333.0,310.6 334.6,310.1 336.2,309.7 C337.8,309.3 340.0,309.0 341.5,309.2 C343.0,309.4 344.4,309.8 345.2,310.8 C345.9,311.8 346.2,313.6 346.0,315.2 C345.8,316.8 344.7,318.9 343.8,320.5 C342.9,322.1 341.9,323.8 340.8,325.0 C339.7,326.2 338.4,327.4 337.0,328.0 C335.6,328.6 333.9,329.2 332.5,328.8 C331.1,328.4 329.7,327.2 328.8,325.8 C327.9,324.4 327.2,322.3 327.2,320.5ZM384.5,238.0 C384.8,236.0 385.6,233.3 387.0,232.0 C388.4,230.7 390.8,230.0 393.0,230.0 C395.2,230.0 398.0,230.7 400.0,232.0 C402.0,233.3 404.1,235.8 405.0,238.0 C405.9,240.2 406.0,243.0 405.5,245.0 C405.0,247.0 403.8,248.9 402.0,250.0 C400.2,251.1 397.3,251.7 395.0,251.5 C392.7,251.3 389.7,250.2 388.0,249.0 C386.3,247.8 385.6,245.8 385.0,244.0 C384.4,242.2 384.2,240.0 384.5,238.0Z" fill="#A9DDE3"/>
<path d="M496.2,172.5 C495.7,170.0 495.6,166.6 497.0,165.0 C498.4,163.4 501.5,163.4 504.5,162.8 C507.5,162.2 510.8,162.0 515.0,161.7 C519.2,161.4 525.0,161.0 530.0,160.8 C535.0,160.7 540.0,160.8 545.0,160.8 C550.0,160.8 555.0,160.7 560.0,160.8 C565.0,161.0 571.0,161.1 575.0,161.7 C579.0,162.3 581.5,163.1 584.0,164.2 C586.5,165.2 588.0,166.9 590.0,168.0 C592.0,169.1 594.0,170.6 596.0,170.7 C598.0,170.8 601.3,169.5 602.0,168.8 C602.7,168.1 599.1,167.0 600.0,166.5 C600.9,166.0 604.5,166.0 607.5,165.8 C610.5,165.6 615.2,165.3 618.0,165.4 C620.8,165.5 622.5,165.8 624.0,166.5 C625.5,167.2 626.0,168.5 627.0,169.5 C628.0,170.5 628.5,171.9 630.0,172.5 C631.5,173.1 633.8,173.2 636.0,173.2 C638.2,173.2 641.0,172.5 643.5,172.5 C646.0,172.5 648.2,172.9 651.0,173.2 C653.8,173.4 657.0,173.7 660.0,174.0 C663.0,174.3 666.0,174.6 669.0,174.8 C672.0,175.1 675.0,175.1 678.0,175.5 C681.0,175.9 684.5,176.4 687.0,177.0 C689.5,177.6 691.5,178.2 693.0,179.2 C694.5,180.2 695.0,181.6 696.0,183.0 C697.0,184.4 698.0,186.0 699.0,187.5 C700.0,189.0 701.0,190.2 702.0,192.0 C703.0,193.8 704.1,196.0 705.0,198.0 C705.9,200.0 706.7,202.0 707.2,204.0 C707.8,206.0 708.2,208.0 708.3,210.0 C708.4,212.0 708.1,214.6 707.7,216.0 C707.3,217.4 706.8,217.8 705.8,218.7 C704.8,219.6 703.6,220.5 702.0,221.2 C700.4,221.9 698.5,222.3 696.0,222.8 C693.5,223.3 689.5,223.8 687.0,224.2 C684.5,224.6 683.0,224.9 681.0,225.0 C679.0,225.1 677.2,224.8 675.0,225.0 C672.8,225.2 670.0,226.0 667.5,226.5 C665.0,227.0 662.2,227.6 660.0,228.0 C657.8,228.4 656.5,229.1 654.0,228.8 C651.5,228.6 647.8,227.3 645.0,226.5 C642.2,225.7 640.0,224.9 637.5,224.2 C635.0,223.4 632.5,222.7 630.0,222.0 C627.5,221.3 625.0,220.6 622.5,219.8 C620.0,219.1 617.5,218.1 615.0,217.5 C612.5,216.9 610.0,216.5 607.5,216.0 C605.0,215.5 601.7,214.4 600.0,214.5 C598.3,214.6 599.2,216.7 597.5,216.8 C595.8,216.9 592.5,215.7 590.0,215.2 C587.5,214.7 585.5,214.3 582.5,213.8 C579.5,213.3 575.2,212.3 572.0,212.2 C568.8,212.1 565.5,212.4 563.0,213.0 C560.5,213.6 559.0,215.1 557.0,216.0 C555.0,216.9 553.0,218.3 551.0,218.2 C549.0,218.1 547.2,216.3 545.0,215.2 C542.8,214.1 540.0,212.6 537.5,211.5 C535.0,210.4 532.2,209.5 530.0,208.5 C527.8,207.5 526.0,206.8 524.0,205.5 C522.0,204.2 520.0,202.8 518.0,201.0 C516.0,199.2 514.0,197.2 512.0,195.0 C510.0,192.8 508.0,190.0 506.0,187.5 C504.0,185.0 501.6,182.5 500.0,180.0 C498.4,177.5 496.7,175.0 496.2,172.5ZM717.9,39.9 C705.2,43.0 717.5,53.9 717.9,58.7 C718.3,63.5 718.7,66.3 720.4,68.8 C722.1,71.3 725.0,73.0 727.9,73.8 C730.8,74.6 734.8,73.6 737.9,73.8 C741.0,74.0 744.8,73.5 746.7,75.0 C748.6,76.5 748.6,79.7 749.2,82.6 C749.8,85.5 749.7,89.5 750.5,92.6 C751.3,95.7 753.0,99.3 754.2,101.4 C755.5,103.5 756.5,104.7 758.0,105.1 C759.5,105.5 761.3,104.7 763.0,103.9 C764.7,103.1 766.8,101.8 768.0,100.1 C769.2,98.4 769.7,95.8 770.5,93.9 C771.3,92.0 771.3,90.1 773.0,88.8 C774.7,87.5 778.0,87.1 780.5,86.3 C783.0,85.5 786.2,85.7 788.1,83.8 C790.0,81.9 791.0,77.7 791.8,75.0 C792.6,72.3 792.7,70.2 793.1,67.5 C793.5,64.8 794.1,63.3 794.3,58.7 C794.5,54.1 807.0,43.0 794.3,39.9 C781.6,36.8 730.6,36.8 717.9,39.9ZM720.4,88.8 C720.4,87.8 722.9,85.8 724.1,85.8 C725.4,85.8 727.9,87.8 727.9,88.8 C727.9,89.8 725.4,92.1 724.1,92.1 C722.9,92.1 720.4,89.8 720.4,88.8ZM708.3,131.5 C708.3,129.9 709.3,128.2 710.3,127.2 C711.3,126.2 712.0,124.5 714.1,125.2 C716.2,125.9 722.5,129.6 722.9,131.5 C723.3,133.4 718.7,135.7 716.6,136.5 C714.5,137.3 711.7,137.3 710.3,136.5 C708.9,135.7 708.3,133.1 708.3,131.5ZM186.0,176.8 C186.5,174.7 187.1,172.4 188.2,170.8 C189.3,169.2 190.9,168.0 192.8,167.0 C194.7,166.0 197.1,165.3 199.5,164.8 C201.9,164.3 204.5,163.9 207.0,164.0 C209.5,164.1 212.4,164.4 214.5,165.2 C216.6,165.9 218.3,167.2 219.8,168.5 C221.3,169.8 222.9,171.4 223.5,173.0 C224.1,174.6 224.0,176.3 223.5,178.2 C223.0,180.1 221.5,182.2 220.5,184.2 C219.5,186.2 218.6,188.4 217.5,190.2 C216.4,192.0 215.3,193.5 213.8,194.8 C212.3,196.1 210.6,197.2 208.5,197.8 C206.4,198.4 203.4,198.6 201.0,198.5 C198.6,198.4 196.1,198.0 194.2,197.3 C192.2,196.6 190.7,195.6 189.3,194.3 C187.9,193.0 186.7,191.3 186.0,189.5 C185.3,187.7 185.2,185.6 185.2,183.5 C185.2,181.4 185.5,178.9 186.0,176.8ZM157.2,228.5 C157.3,227.4 158.6,225.9 159.8,224.8 C161.0,223.7 162.6,222.7 164.2,221.8 C165.8,220.9 167.9,219.8 169.5,219.5 C171.1,219.2 173.1,219.4 174.0,220.2 C174.9,220.9 174.1,223.6 174.8,224.0 C175.6,224.4 177.4,222.2 178.5,222.5 C179.6,222.8 180.9,224.2 181.5,225.5 C182.1,226.8 182.4,228.5 182.2,230.0 C181.9,231.5 181.0,233.3 180.0,234.5 C179.0,235.7 177.7,236.6 176.2,237.2 C174.7,237.8 172.7,238.1 171.0,238.2 C169.3,238.2 167.3,238.1 165.8,237.5 C164.3,236.9 163.1,235.5 162.0,234.5 C160.9,233.5 159.8,232.5 159.0,231.5 C158.2,230.5 157.1,229.6 157.2,228.5ZM275.7,170.0 C275.8,168.4 276.7,166.3 277.5,164.8 C278.3,163.3 279.5,161.8 280.5,161.0 C281.5,160.2 282.6,159.7 283.5,160.2 C284.4,160.7 284.9,162.7 285.8,164.0 C286.7,165.3 287.7,166.7 288.8,167.8 C289.9,168.9 291.5,170.1 292.5,170.8 C293.5,171.5 294.6,171.3 294.8,172.2 C295.1,173.1 294.9,175.1 294.0,176.0 C293.1,176.9 291.0,177.2 289.5,177.5 C288.0,177.8 286.5,177.9 285.0,177.8 C283.5,177.7 281.8,177.4 280.5,176.8 C279.2,176.2 278.0,175.3 277.2,174.2 C276.4,173.1 275.6,171.6 275.7,170.0ZM262.0,349.0 C262.1,348.3 263.1,347.4 264.2,347.2 C265.3,346.9 267.8,347.1 268.8,347.5 C269.8,347.9 270.5,348.7 270.2,349.3 C269.9,349.9 268.3,350.9 267.2,351.2 C266.1,351.5 264.4,351.6 263.5,351.2 C262.6,350.8 261.9,349.7 262.0,349.0Z" fill="#33F0DC"/>
<path d="M503.0,172.5 C503.2,170.5 506.2,169.4 509.0,168.0 C511.8,166.6 516.0,165.1 519.5,164.2 C523.0,163.3 525.8,163.1 530.0,162.8 C534.2,162.5 540.0,162.3 545.0,162.3 C550.0,162.3 555.0,162.6 560.0,162.8 C565.0,163.1 571.2,163.2 575.0,163.8 C578.8,164.4 580.2,165.3 582.5,166.5 C584.8,167.7 586.5,169.6 588.5,171.0 C590.5,172.4 592.2,174.3 594.5,174.8 C596.8,175.3 601.1,174.4 602.0,174.0 C602.9,173.6 598.8,172.8 600.0,172.5 C601.2,172.2 606.0,172.6 609.0,172.5 C612.0,172.4 615.0,172.0 618.0,172.2 C621.0,172.4 624.0,173.3 627.0,173.7 C630.0,174.1 633.0,174.7 636.0,174.8 C639.0,174.9 642.0,174.3 645.0,174.3 C648.0,174.3 651.0,174.6 654.0,174.8 C657.0,175.0 660.0,175.3 663.0,175.5 C666.0,175.7 669.2,175.8 672.0,176.2 C674.8,176.6 677.2,177.0 679.5,177.8 C681.8,178.6 683.8,179.6 685.5,180.8 C687.2,182.0 688.5,183.6 690.0,185.2 C691.5,186.8 693.0,188.6 694.5,190.5 C696.0,192.4 697.8,194.5 699.0,196.5 C700.2,198.5 701.2,200.2 702.0,202.5 C702.8,204.8 703.5,208.0 703.8,210.0 C704.0,212.0 703.8,213.2 703.5,214.5 C703.2,215.8 703.0,216.7 702.0,217.5 C701.0,218.3 699.5,218.8 697.5,219.3 C695.5,219.8 692.5,220.1 690.0,220.5 C687.5,220.9 685.0,221.8 682.5,222.0 C680.0,222.2 677.5,221.6 675.0,221.7 C672.5,221.8 670.0,222.0 667.5,222.3 C665.0,222.6 662.5,223.3 660.0,223.5 C657.5,223.7 655.0,224.0 652.5,223.5 C650.0,223.0 647.5,221.4 645.0,220.5 C642.5,219.6 640.0,218.8 637.5,218.2 C635.0,217.6 632.5,217.4 630.0,216.8 C627.5,216.2 625.0,215.1 622.5,214.5 C620.0,213.9 617.5,213.5 615.0,213.0 C612.5,212.5 610.0,212.0 607.5,211.5 C605.0,211.0 602.4,210.0 600.0,210.0 C597.6,210.0 595.7,211.5 593.0,211.5 C590.3,211.5 587.0,210.4 584.0,210.0 C581.0,209.6 578.5,209.3 575.0,209.2 C571.5,209.1 566.5,208.8 563.0,209.2 C559.5,209.6 557.0,211.4 554.0,211.5 C551.0,211.6 547.8,210.8 545.0,210.0 C542.2,209.2 540.0,208.1 537.5,207.0 C535.0,205.9 532.8,204.7 530.0,203.2 C527.2,201.7 523.5,199.6 521.0,198.0 C518.5,196.4 516.5,195.0 515.0,193.5 C513.5,192.0 513.2,191.2 512.0,189.0 C510.8,186.8 509.0,182.8 507.5,180.0 C506.0,177.2 502.8,174.5 503.0,172.5ZM722.9,39.9 C711.4,43.0 722.5,54.1 722.9,58.7 C723.3,63.3 723.7,65.4 725.4,67.5 C727.1,69.6 730.0,70.7 732.9,71.3 C735.8,71.9 739.5,71.1 742.9,71.3 C746.2,71.5 750.9,71.0 753.0,72.5 C755.1,74.0 755.1,77.6 755.5,80.1 C755.9,82.6 755.1,85.3 755.5,87.6 C755.9,89.9 756.3,93.9 758.0,93.9 C759.7,93.9 762.6,89.1 765.5,87.6 C768.4,86.1 772.1,85.9 775.5,85.1 C778.9,84.3 783.3,84.3 785.6,82.6 C787.9,80.9 788.5,77.9 789.3,75.0 C790.1,72.1 790.2,67.7 790.6,65.0 C791.0,62.3 791.6,62.9 791.8,58.7 C792.0,54.5 803.3,43.0 791.8,39.9 C780.3,36.8 734.4,36.8 722.9,39.9ZM189.3,186.5 C189.2,184.6 189.6,182.2 190.2,180.5 C190.8,178.8 191.8,177.3 192.8,176.0 C193.9,174.7 194.9,173.4 196.5,172.7 C198.1,172.0 200.2,171.9 202.5,171.8 C204.8,171.7 207.9,171.9 210.0,172.2 C212.1,172.4 214.2,172.4 215.2,173.3 C216.2,174.2 216.1,176.1 216.0,177.5 C215.9,178.9 215.2,180.5 214.8,182.0 C214.4,183.5 214.4,185.0 213.8,186.5 C213.2,188.0 212.6,189.8 211.5,191.0 C210.4,192.2 208.8,193.1 207.0,193.7 C205.2,194.3 203.0,194.8 201.0,194.8 C199.0,194.9 196.7,194.5 195.0,194.0 C193.3,193.5 191.8,193.1 190.8,191.8 C189.9,190.6 189.4,188.4 189.3,186.5ZM168.0,230.0 C168.4,229.3 169.9,228.1 171.0,227.8 C172.1,227.6 173.8,228.1 174.8,228.5 C175.8,228.9 176.9,229.4 177.0,230.0 C177.1,230.6 176.4,231.7 175.5,232.2 C174.6,232.7 172.9,233.1 171.8,233.0 C170.7,232.9 169.4,232.3 168.8,231.8 C168.2,231.3 167.6,230.7 168.0,230.0Z" fill="#00CC88"/>
<path d="M516.5,182.2 C516.5,179.9 517.8,176.1 519.5,174.0 C521.2,171.9 524.0,170.6 527.0,169.5 C530.0,168.4 533.2,167.6 537.5,167.2 C541.8,166.8 547.5,166.8 552.5,166.8 C557.5,166.8 563.5,166.9 567.5,167.2 C571.5,167.5 574.0,167.9 576.5,168.8 C579.0,169.7 580.5,171.1 582.5,172.5 C584.5,173.9 586.5,175.9 588.5,177.0 C590.5,178.1 592.2,178.8 594.5,179.2 C596.8,179.6 601.1,179.6 602.0,179.2 C602.9,178.8 598.8,177.2 600.0,177.0 C601.2,176.8 606.0,177.8 609.0,177.8 C612.0,177.8 615.0,177.0 618.0,177.0 C621.0,177.0 623.8,177.4 627.0,177.8 C630.2,178.2 634.0,178.8 637.5,179.2 C641.0,179.6 644.8,179.7 648.0,180.0 C651.2,180.3 654.0,180.7 657.0,180.8 C660.0,180.9 663.0,180.6 666.0,180.8 C669.0,181.0 672.5,181.5 675.0,182.2 C677.5,182.9 679.2,184.1 681.0,185.2 C682.8,186.3 684.0,187.6 685.5,189.0 C687.0,190.4 688.6,192.0 690.0,193.5 C691.4,195.0 693.0,196.5 693.8,198.0 C694.6,199.5 694.7,201.0 694.8,202.5 C694.9,204.0 694.6,205.8 694.2,207.0 C693.8,208.2 693.2,209.1 692.2,210.0 C691.2,210.9 689.9,211.4 688.5,212.2 C687.1,212.9 685.5,213.9 684.0,214.5 C682.5,215.1 681.0,215.6 679.5,216.0 C678.0,216.4 677.0,216.6 675.0,216.8 C673.0,217.1 670.0,217.3 667.5,217.5 C665.0,217.7 662.5,218.2 660.0,218.2 C657.5,218.2 655.0,218.1 652.5,217.5 C650.0,216.9 647.5,215.2 645.0,214.5 C642.5,213.8 640.0,213.5 637.5,213.0 C635.0,212.5 632.5,212.1 630.0,211.5 C627.5,210.9 625.0,209.8 622.5,209.2 C620.0,208.6 617.5,208.2 615.0,207.8 C612.5,207.4 610.0,207.1 607.5,206.7 C605.0,206.3 602.2,205.6 600.0,205.5 C597.8,205.4 597.2,206.3 594.5,206.2 C591.8,206.1 587.2,205.2 584.0,204.8 C580.8,204.4 578.5,204.0 575.0,204.0 C571.5,204.0 566.8,204.6 563.0,204.8 C559.2,205.1 556.0,206.0 552.5,205.5 C549.0,205.0 545.2,203.1 542.0,201.8 C538.8,200.6 536.0,199.4 533.0,198.0 C530.0,196.6 526.2,195.2 524.0,193.5 C521.8,191.8 520.8,189.4 519.5,187.5 C518.2,185.6 516.5,184.4 516.5,182.2ZM727.9,39.9 C718.1,43.0 726.6,54.5 727.9,58.7 C729.1,62.9 732.5,63.5 735.4,65.0 C738.3,66.5 742.0,67.3 745.4,67.5 C748.8,67.7 752.6,65.9 755.5,66.3 C758.4,66.7 761.1,68.3 763.0,70.0 C764.9,71.7 764.7,75.0 766.8,76.3 C768.9,77.6 772.8,78.0 775.5,77.6 C778.2,77.2 781.3,75.7 783.0,73.8 C784.7,71.9 785.0,68.8 785.6,66.3 C786.2,63.8 786.6,63.1 786.8,58.7 C787.0,54.3 796.6,43.0 786.8,39.9 C777.0,36.8 737.7,36.8 727.9,39.9Z" fill="#00B140"/>
<path d="M527.0,181.5 C527.0,179.9 530.5,178.0 533.0,177.0 C535.5,176.0 538.5,176.0 542.0,175.5 C545.5,175.0 550.0,174.2 554.0,174.0 C558.0,173.8 562.5,173.8 566.0,174.0 C569.5,174.2 572.5,174.6 575.0,175.5 C577.5,176.4 579.0,177.8 581.0,179.2 C583.0,180.6 584.8,182.8 587.0,183.8 C589.2,184.8 592.0,185.1 594.5,185.2 C597.0,185.3 601.1,184.7 602.0,184.2 C602.9,183.7 598.8,182.3 600.0,182.2 C601.2,182.1 606.0,183.4 609.0,183.8 C612.0,184.2 614.5,184.3 618.0,184.5 C621.5,184.7 626.5,184.7 630.0,184.8 C633.5,184.9 636.0,185.0 639.0,185.2 C642.0,185.4 645.8,185.3 648.0,186.0 C650.2,186.7 651.2,188.4 652.5,189.3 C653.8,190.2 654.2,191.3 655.5,191.2 C656.8,191.1 658.5,189.4 660.0,188.7 C661.5,188.0 663.0,187.3 664.5,187.2 C666.0,187.0 667.5,187.1 669.0,187.8 C670.5,188.5 672.0,190.0 673.5,191.2 C675.0,192.4 676.6,193.7 678.0,195.0 C679.4,196.3 680.9,197.8 681.8,198.8 C682.7,199.8 683.3,200.3 683.2,201.0 C683.1,201.7 682.4,202.6 681.0,203.2 C679.6,203.8 677.2,204.1 675.0,204.3 C672.8,204.5 670.0,204.3 667.5,204.3 C665.0,204.3 662.5,204.4 660.0,204.3 C657.5,204.2 654.5,204.2 652.5,204.0 C650.5,203.8 650.5,203.2 648.0,202.8 C645.5,202.4 641.0,202.1 637.5,201.8 C634.0,201.5 630.8,201.1 627.0,201.0 C623.2,200.9 618.5,200.9 615.0,201.0 C611.5,201.1 608.5,201.6 606.0,201.8 C603.5,202.1 601.9,202.6 600.0,202.5 C598.1,202.4 597.4,201.5 594.5,201.0 C591.6,200.5 586.2,199.8 582.5,199.5 C578.8,199.2 575.8,199.4 572.0,199.5 C568.2,199.6 563.8,200.7 560.0,200.2 C556.2,199.7 552.8,197.9 549.5,196.5 C546.2,195.1 543.2,193.6 540.5,192.0 C537.8,190.4 535.2,188.6 533.0,186.8 C530.8,185.1 527.0,183.1 527.0,181.5ZM734.2,39.9 C732.8,43.0 733.6,55.0 734.2,58.7 C734.8,62.4 736.5,62.0 737.9,62.0 C739.3,62.0 742.1,62.4 742.9,58.7 C743.7,55.0 744.3,43.0 742.9,39.9 C741.5,36.8 735.7,36.8 734.2,39.9ZM765.5,39.9 C764.2,43.0 764.9,54.9 765.5,58.7 C766.1,62.6 768.0,63.0 769.3,63.0 C770.5,63.0 772.4,62.6 773.0,58.7 C773.6,54.9 774.2,43.0 773.0,39.9 C771.8,36.8 766.8,36.8 765.5,39.9Z" fill="#009A00"/>
<path d="M536.8,185.2 C537.5,184.6 541.1,184.0 545.0,183.8 C548.9,183.6 555.2,183.6 560.0,183.8 C564.8,184.0 570.5,184.3 573.5,184.8 C576.5,185.3 578.0,186.1 578.0,186.8 C578.0,187.6 576.5,188.7 573.5,189.3 C570.5,189.9 564.2,190.1 560.0,190.2 C555.8,190.3 551.2,190.2 548.0,189.8 C544.8,189.4 542.4,188.3 540.5,187.5 C538.6,186.7 536.0,185.8 536.8,185.2Z" fill="#33AA00"/></g>
<!-- cabrera_fill --><circle cx="731.6" cy="431.6" r="1.6" fill="#555"/>
<path d="M145.4,422.9 L147.9,420.4 L155.5,416.7 L160.5,414.2 L168,416.7 L173,420.4 L174.3,427.9 L185.6,430.5 L198.1,431.7 L208.1,438 L218.2,434.2 L225.7,430.5 L233.2,430.5 L240.7,427.9 L250,430.5 L250,429M208.1,508.2 L210.6,517.7 L205.6,525.2 L198.1,530.2 L190.6,530.2 L198.1,536.5 L199.3,545.3 L198.1,555.3 L196.8,567.9 L198.1,575.4 L195.6,581.6M198.1,575.4 L208.1,576.6 L220.7,579.1 L230.7,575.4 L240.7,572.9 L250,570.4 L250,566.6M286.4,161.4 L283.9,172.7 L281.4,182.7 L281,189M312.7,174 L315.2,182.7 L320.2,181.5M291,299 L291.4,300.1 L296.4,307.6 L302.7,317.6 L306.4,325.1 L307.7,332.7 L315.2,333.9 L321.5,336.4 L322.7,333.9M293.9,412.9 L293.9,415.4 L305.2,410.4 L315.2,407.9 L325.3,406.6 L335.3,405.4 L345.3,402.9 L350.3,420.4 L357.9,417.9 L365.4,412.9 L375.4,410.4 L385.4,410.4 L395.5,411.6 L395.5,407.9M380.4,371.5 L385.4,380.3 L390.5,390.3 L394.2,397.9 L395.5,407.9 L396.7,415.4 L403,417.9 L405.5,422.9M405.5,422.9 L403,430.5 L400.5,438 L399.2,445.5 L405.5,453 L410.5,460.5 L408,468.1 L403,473.1M405.5,422.9 L405.5,420.4 L415.5,419.2 L425.6,424.2 L433.1,422.9 L443.1,419.2 L453.1,421.7 L463.2,420.4 L473.2,415.4 L477,412.9 L476.3,414.2M317.7,481.3 L320.2,490.1 L317.7,500.2 L316.5,510.2 L319,520.2 L322.7,525.2 L320.2,527.7 L325.3,534 L330.3,540.3 L335.3,545.3M250,507.7 L255,517.7 L252.5,525.2 L257.6,530.2 L267.6,525.2 L275.1,524 L280.1,530.2 L282.6,537.8 L287.6,545.3 L293.9,550.3 L297.7,552.8M297.7,552.8 L307.7,551.6 L315.2,555.3 L322.7,550.3 L335.3,545.3M240,572.9 L250,566.6 L260.1,567.9 L267.6,570.4 L277.6,562.8 L287.6,556.6 L297.7,552.8M267.6,570.4 L270.1,580.4 L265.1,587.9 L257.6,595.4 L252.5,603 L256.3,610.5 L255,620.5 L256.5,620.8M335.3,545.3 L345.3,545.3 L355.3,537.8 L365.4,532.7 L375.4,530.2 L385.4,527.7 L393,525.2 L400.5,517.7 L405.5,510.2 L415.5,502.7 L416.8,498.9M403,525.2 L401.7,535.3 L405.5,542.8 L410.5,547.8 L413,555.3 L415.5,565.3 L416.8,575.4 L415.5,584.2M315.2,555.3 L316.5,562.8 L320.2,570.4 L325.3,580.4 L326.5,586.7 L327.8,586.2M518,216 L519,226 L518,236 L513,240 L514,243 L520,245 L526,247 L530,252 L533,258 L538,262 L543,266 L549,269 L553,273 L556,278 L559,283 L566,284 L574,283 L581,282 L581.6,283M646.5,210 L645.5,210.3 L660.6,210.3 L665.6,215.3 L668.1,222.9 L663.1,225.4 L660.6,230.4 L658.1,235.4 L650.5,240.4 L645.5,247.9 L643,255.5 L650.5,258 L645.5,265.5 L640.5,273 L630.5,275.5 L635.5,280M473.2,322.6 L473.8,317.6 L477.5,307.6 L485,303.8 L492.6,300.1 L500.1,301.3 L507.6,303.8 L515.1,301.3 L522.7,298.8 L526.4,293.8 L530.2,288.8 L535.2,291.3 L542.7,295 L550.2,297.6 L557.8,302.6 L565.3,305.1 L575.3,306.3M516.4,382.8 L522.7,385.3 L530.2,387.8 L537.7,392.8 L545.2,397.9 L547.7,400.4 L549,399.1M506.4,445.5 L515.1,443 L525.2,444.2 L535.2,440.5 L545.2,435.5 L550.2,433M584.1,292.5 L584.1,290 L592.9,291.3 L602.9,290 L612.9,287.5 L620.5,285 L630.5,282.5 L635.5,280 L630.5,275.5M192,229 L200,231 L210,232 L220,233 L230,234 L240,235 L244,237 L247,239 L249,243 L252,241 L254,240 L257,242 L259,245M281.4,182.7 L281,189 L282,198 L281,206 L279,214 L278,220 L274,222 L268,223 L262,225 L257,227 L254,228 L253.6,234 L254,240M278,220 L275,226 L276,232 L279,235 L278,242 L276,248 L280,248 L284,249 L288,253 L292,250 L296,250 L300,254 L305,255 L308,257 L314,256 L320,255 L328,255M315.2,182.7 L317,189 L318,198 L317,206 L318,210 L314,213 L316,218 L319,223 L321,229 L322,233 L327,235 L330,238 L333,242 L339,243 L338,246 L333,248 L329,250 L328,255 L330,260 L332,266 L334,271M259,245 L258,250 L257,255 L254,258 L255,263 L258,268 L261,273 L259,276 L256,279 L257,286 L258,292 L259,297M198.1,286.3 L196,290 L204,293 L210,295 L217,296 L219,299 L222,298 L223,294 L230,294 L238,295 L246,297 L253,299 L257,300 L259,297M259,297 L264,299 L269,300 L274,299 L280,301 L285,303 L288,301 L291,299 L296,297 L300,294 L303,290 L306,289 L305,286 L304,283 L310,281 L318,279 L326,277 L334,274 L334,271M269,300 L268,305 L270,310 L269,316 L266,322 L262,327 L257,331 L252,335 L247,338 L249,343 L248,348M334,271 L340,274 L344,277 L346,278 L348,275 L354,272 L360,271 L363,268 L366,264 L371,259 L374,254 L375,251 L380,254M360,271 L364,274 L368,277 L371,282 L374,286 L380,289 L376.7,290.5M250,430.5 L250,429 L252,429 L256,424 L262,420 L268,418 L274,416 L282,415 L288,414 L290.2,416.7M117.5,132.5 L116,138.5 L112.2,144.5 L108.5,149 L106.2,155 L106.2,161 L107.8,167 L109.2,173 L108.5,177.5 L105.5,182 L104.8,186.5M62.8,191.8 L68,190.2 L74,188.8 L80,186.5 L86,185 L92,184.2 L98,184.2 L104.8,183.5 L105.5,182M104.8,186.5 L107,191 L110,194 L110.8,200 L108.5,204.5 L110,207.5 L116,209 L122,210.5 L126.5,213.5 L131,213.5 L135.5,212 L140,210.5 L146,209 L152,207.5 L157.5,206.8M108.5,204.5 L105.5,209 L102.5,213.5 L99.5,218 L96.5,222.5 L95,228.1 L93.5,234.5 L92,240.5 L94,240.4" fill="none" stroke="#9a9a9a" stroke-width="1.4" stroke-linejoin="round"/>
<path d="M492.5,59.5 L486.3,100 L483.8,112.5 L480,125.1 L475,137.6 L470,145.1 L466.5,146.5 L463.9,147.1 L460.7,147.6 L453.1,148.9 L445.6,150.2 L438.1,151.4 L430.6,152.7 L423,150.2 L415.5,147.6 L409.3,145.1 L404.2,143.1 L398,143.9 L393,145.1 L387.9,147.6 L381.7,147.6 L375.4,145.1 L367.9,143.1 L362.9,140.6 L357.9,138.9 L354.1,139.6 L347.8,142.1 L344.8,140.1 L340.3,140.6 L332.8,142.1 L322.7,144.6 L312.7,146.4 L302.7,146.4 L290.2,145.1 L277.6,142.6 L267.6,141.4 L260.1,138.1 L250,136.4 L240,135.6 L237,135.4 L231.9,131.3 L226.9,128.3 L219.4,132.6 L208.1,134.1 L198.1,132.8 L185.6,132.8 L175.5,134.1 L170,134 L164,134.8 L158,135.2 L152,134.3 L146.8,134 L143.8,131.8 L140.8,128.8 L137.8,125.8 L134.8,123.8 L131.8,122.8 L128.8,124.2 L126.5,125 L125,122 L122.8,119.8 L119.8,120.2 L116.8,122 L113.8,124.2 L111.5,123.2 L110.8,120.8 L107.8,122 L104,124.2 L100.2,125.8 L96.5,128.8 L92.8,131.8 L89,134 L85.2,134.8 L84.2,137.8 L84.5,141.5 L86.8,143.8 L90.5,145.2 L92,147.5 L90.5,150.2 L87.5,148.2 L84.5,146.8 L81.5,146 L77.8,147.2 L74.8,149.3 L71,150.8 L66.5,152 L62,152.8 L58.2,152 L55.2,150.2 L52.2,151.2 L50,153.5 L47,155 L44.8,158 L41,160.2 L36.5,161 L34.2,163.2 L32,167.8 L29.8,170.8 L30.2,173.8 L29,177.5 L29.8,180.5 L32,179.8 L35.8,180.5 L38.8,182.8 L38,186.5 L40.2,189.5 L44,191 L47.8,192.5 L46.2,195.5 L44,198.5 L41.8,202.2 L42.5,205.2 L46.2,204.5 L49.2,201.5 L52.2,200 L55.2,202.2 L56.8,206 L53,208.2 L50,209.8 L53.8,213.5 L57.5,215 L61.2,217.2 L59,220.2 L55.2,221 L53.8,225.5 L56.4,230.9 L51.9,236.7 L51.7,242.9 L53.2,250.5 L53.9,260.5 L56.4,270.5 L58.2,280 L58.2,280 L61.4,290 L65.7,298.8 L66.4,307.6 L65.7,317.6 L64.7,327.6 L60.2,337.7 L56.4,350.2 L52.7,360.2 L51.4,365.3 L58.9,367.8 L53.9,370.3 L50.2,380.3 L45.1,392.8 L41.4,402.9 L35.1,411.6 L30.1,416.7 L23.8,417.9 L26.3,425.4 L23.8,435.5 L21.3,445.5 L18.1,454.3 L17.6,455 L18.1,459.5 L25.1,461.3 L32.6,462 L40.1,458.8 L46.4,452.5 L49.1,452 L48.9,456.3 L51.4,457 L45.1,461.3 L40.1,462.5 L42.6,466.3 L37.6,465 L32.6,463.8 L35.1,471.3 L33.9,478.1 L42.6,477.1 L50.2,473.8 L53.9,475.1 L60.2,472.6 L61.4,477.6 L66.4,479.6 L58.9,477.6 L60.2,487.6 L58.9,497.6 L55.2,506.4 L52.7,508.9 L57.2,510.2 L58.2,519 L57.2,524 L61.4,525.2 L58.2,527.7 L58.2,537.8 L55.7,547.8 L53.2,555.3 L50.2,561.6 L46.4,567.4 L50.2,568.4 L57.7,564.8 L67.7,561.6 L74,560.3 L82.7,562.8 L92.8,564.1 L100.3,565.8 L105.3,567.9 L110.3,569.9 L114.1,567.4 L120.4,564.8 L125.4,560.3 L130.4,559.1 L137.4,557.8 L137.4,557.8 L145.4,556.6 L155.5,556.1 L163,557.8 L170.5,560.8 L178,564.8 L185.6,570.4 L191.8,576.6 L195.6,581.6 L193.1,586.7 L196.8,591.7 L195,592 L201.3,595.8 L203.8,599.5 L203.1,602.5 L206.3,602 L207.6,607 L211.3,613.3 L216.4,618.3 L221.4,620.8 L227.6,623.3 L231.4,626.6 L236.4,628.4 L241.4,630.9 L246.4,628.4 L250.2,625.9 L251.5,622.1 L256.5,620.8 L257.7,617.1 L261.5,613.3 L266.5,608.3 L271.5,604.5 L279,602.5 L287.8,602 L295.3,600.8 L300.4,597 L304.1,593.3 L305.4,592 L309,587.9 L317.7,586.7 L327.8,586.2 L337.8,585.4 L347.8,586.2 L357.9,586.7 L365.4,587.9 L375.4,586.7 L385.4,585.4 L394.2,584.2 L398,586.7 L403,588.4 L410.5,587.4 L415.5,584.2 L420.5,581.6 L426.8,580.4 L433.1,581.6 L438.1,585.4 L443.1,585.4 L448.1,580.4 L453.1,575.4 L455.6,567.9 L456.9,560.3 L460.7,552.8 L465.7,547.8 L469.4,544.8 L475.7,541.5 L483.2,537.8 L490,534.8 L492.6,533.3 L497.6,534.8 L505.1,532.8 L511.4,533.3 L517.6,532.3 L522.7,530.3 L521.4,528.3 L516.4,526.5 L513.9,524 L516.4,520.2 L518.9,516.5 L520.2,512.7 L523.9,509 L525.7,505.2 L527.2,500.2 L530.2,494.7 L533.9,493.2 L533.9,488.9 L535.7,485.1 L537.7,481.4 L541.5,477.1 L547.7,473.9 L552.7,471.3 L557.8,472.1 L559,468.8 L562.8,466.3 L567.8,463.8 L572.8,461.3 L576.6,457.6 L572.8,453 L567.8,450.5 L561.5,448.8 L556.5,445 L554,440 L552.7,439.2 L550.2,433 L549.7,427.9 L546.5,421.7 L544,415.4 L544.7,410.4 L546.5,405.4 L549,399.1 L552.7,392.8 L556.5,387.8 L560.3,382.8 L564,377.8 L566.5,372.8 L570.3,369 L575.3,365.3 L579.1,360.2 L582.8,355.2 L586.6,350.2 L590.4,344.7 L592.9,340.2 L596.6,338.9 L600.4,338.2 L605.4,335.7 L611.7,332.7 L614.2,328.9 L610.4,325.1 L605.4,324.6 L606.7,322.6 L610.4,317.6 L615.4,312.6 L620.5,308.8 L625.5,306.3 L630.5,305.1 L635.5,303.1 L645.5,300.1 L650,298 L654.5,297.2 L660.5,296.2 L666.5,295 L672.5,294.2 L677,293.5 L682.2,292 L685.7,289.8 L687.5,286.8 L689.3,283.8 L692,280.8 L695,278.5 L698,277 L701,275.5 L704,274 L707,272.5 L710,271 L713,269.5 L716,268 L719,266.5 L722,265 L725,263.2 L728,261.7 L731,259.8 L734,258.2 L737,256 L740,254.5 L743,252.2 L746,250 L747.5,247.8 L748.2,244 L747.5,238.8 L745.2,235 L742.2,232.8 L741.8,229 L743,226 L746,225.2 L749,226 L752,223.8 L753.5,221.2 L752,219.2 L747.5,217.8 L745.2,214.8 L744.2,212.2 L743,207.2 L738.5,205 L737.8,197.5 L737.8,190 L736.7,177.9 L737.9,170.3 L741.7,164.1 L747.9,159 L755.5,155.3 L764.2,154.8 L768,150.8 L775.5,145.3 L783,140.2 L790.6,136.5 L796.8,135.2 L800.6,140.2 L808.1,141.5 L815.6,141.5 L823.2,141.5 L824.4,147.8 L829.4,149.8 L835.7,148.3 L842,146.5 L844.5,144 L848.2,145.3 L850,147.8 L852,148M185.5,729.9 L191.3,719.9 L197.6,707.3 L203.8,693.6 L208.8,681 L213.9,668.5 L217.6,658.4 L220.1,650.9 L222.6,644.7 L226.4,643.4 L231.4,644.2 L236.4,642.2 L242.7,640.9 L246.4,637.6 L250.2,636.6 L254,637.1 L255.2,640.9 L256.5,645.9 L259,650.9 L260.2,655.9 L264,659.7 L267.8,663.5 L271.5,667.2 L276.5,670.2 L280.3,673.5 L285.3,676.8 L290.3,679.3 L296.6,681 L302.9,682.3 L307.9,683.5 L311.6,684.3 L316.7,682.3 L322.9,681 L329.2,679.3 L334.2,678.5 L337.5,677.3 L338.5,679.8 L343,681 L345.5,678.5 L348,676 L351.8,676 L355.5,678.5 L360.5,679.8 L365.6,681 L371.8,681 L378.1,679.3 L383.1,678.5 L386.9,676 L389.4,671 L390.6,666 L393.1,666 L393.1,672.2 L394.4,677.3 L398.2,681 L403.2,686 L408.2,686.8 L415.7,687.3 L420.7,686 L424.5,683.5 L430,686 L432.6,686.8 L437.6,687.8 L440.1,687.3 L443.9,688.5 L448.9,688.8 L453.9,687.8 L458.9,686.3 L462.7,684.8 L466.4,682.3 L470.2,679.8 L474,677.3 L477.7,675.2 L481.5,674.2 L485.3,673.5 L489,671.7 L491.5,666 L494,658.4 L497.8,656.7 L501.6,653.4 L505.3,650.9 L509.1,649.2 L512.8,648.4 L515.8,645.4 L519.1,647.2 L522.9,648.4 L526.6,649.2 L530.4,645.9 L534.2,643.4 L535.4,638.9 L539.2,637.9 L542.9,637.1 L545.4,638.4 L546.7,642.2 L550.5,643.4 L556.7,644.2 L561.7,642.2 L565.5,638.4 L568.5,633.4 L570.5,629.1 L574.3,625.1 L579.3,622.6 L583,619.1 L588.1,617.1 L594.3,614.1 L600.6,611.1 L606.9,609.6 L613.1,607.8 L616.9,603.3 L621.9,601.5 L626.9,600.3 L633.2,600 L638.2,599 L640.7,597 L644.5,597.5 L650,598.3 L657.6,597.2 L665.1,596.4 L672.7,595.7 L680.2,595.2 L687.7,593.9 L695.2,592.2 L700.2,591.9 L702.7,593.9 L707.8,594.7 L712.8,593.9 L717.8,591.4 L722.8,588.9 L726.6,585.1 L730.3,581.4 L734.1,580.6 L737.9,581.4 L739.9,585.1 L744.1,585.1 L747.4,583.9 L748.4,580.1 L752.9,582.1 L757.9,583.1 L762.9,583.1 L767.9,581.4 L773,578.9 L776.7,576.4 L781.7,574.6 L786.8,573.6 L790.5,575.1 L795.5,575.1 L800.5,575.9 L804.3,574.6 L808.1,575.6 L813.1,575.6 L818.1,574.6 L823.1,576.4 L828.1,576.4 L834.4,576.4 L838.2,575.9 L841.9,577.1 L845.7,578.9 L850.2,581.4M697,403 L702,399 L708,396 L714,391 L720,387 L726,384 L732,381.6 L738,380 L744,378.4 L747.6,378.4 L745,381 L741,382 L746,383 L746.4,386 L742.4,387 L744,391 L748,393 L752,392.4 L756,390 L760,392 L762,395 L761,400 L758,403 L757,407 L754,410 L751,414 L748,418 L743,420.4 L739,423.6 L735,420 L733,418 L728,417.6 L723,417 L720.4,414 L720,409 L717,406 L713,405.6 L709.6,408 L708,411 L705,409 L703,407 L699,406.4 L697,403ZM780.6,374.4 L783,371.6 L788,371.6 L794,371.2 L799,371 L801,372 L804,374 L807.6,377 L809.6,381 L810.4,385 L809,388 L805,387 L800,385 L796,382.4 L791,381 L786,381 L782.4,381 L781,378 L780.6,374.4ZM633,444.2 L635.5,440.5 L640.5,436.7 L645.5,435 L651.8,433.5 L655.6,435.5 L655.1,440.5 L651.8,444.2 L648,446.8 L644.3,450.5 L640.5,451.8 L635.5,450 L633,447.5ZM641.8,459.3 L645.5,457.5 L649.3,460.5 L653.6,461 L654.3,463.6 L649.3,464.3 L645.5,463 L642.5,464.3ZM730,431.6 L731.6,430.2 L733.4,431.2 L732.4,433 L730.6,433Z" fill="none" stroke="#4a4a4a" stroke-width="1.5" stroke-linejoin="round"/>
<!-- small coastal details -->
<path d="M64.5,318 L66,320 L67.5,321.5 L66.5,324 L65,326 M65.5,327.5 L68.8,327.8 M63.5,323 L62.5,328 L61.5,332 M818,140.6 L825.5,142.4 M393.6,673 L397,680 L402,685.4 M253.6,636.6 L255,637.6" fill="none" stroke="#4a4a4a" stroke-width="1.5" stroke-linecap="round" stroke-linejoin="round"/>
<path d="M170.5,359 L171.8,357.7 L180.5,356.5 L186.8,354 L193.1,350.2 L200.6,346.4 L205.6,343.9 L209.4,346.4 L213.1,351.5 L218.2,355.2 L225.7,355.2 L230.7,354 L237,357.7 L243.2,360.2 L250,361.5 L247.5,361.5M163,493.9 L173,495.1 L180.5,500.2 L188.1,503.9 L195.6,502.7 L208.1,508.2 L215.6,506.4 L223.2,503.9 L225.7,496.4 L233.2,495.1 L237,498.9 L240,496.4M240,171.5 L240,172.7 L247.5,171.5 L255,169 L262.6,166.4 L270.1,162.7 L277.6,158.9 L282.6,158.2 L286.4,161.4 L288.9,166.4 L293.9,171.5 L301.4,172.7 L307.7,171.5 L312.7,174 L317.7,175.2 L320.2,181.5 L324,186.5 L327.8,189 L334,189 L339,187.8 L342.8,185.3 L341.6,180.2 L336.5,179 L335.3,175.2 L339,171.5 L345.3,167.7 L352.8,163.9 L359.1,161.4 L365.4,160.2 L371.6,158.9 L376.7,156.4 L380.4,153.9 L381.7,150.2 L381.7,147.6M302.7,146.4 L303.2,152.7 L293.9,156.4 L288.9,160.2 L286.4,161.4M470,246 L465.7,245.4 L456.9,242.9 L455.6,236.7 L456.5,235M456.9,242.9 L458.2,250.5 L460.7,260.5 L458.2,265.5 L450.6,270.5 L448.1,275.5 L443.1,280.5 L444.4,282M250,361.5 L247.5,361.5 L255,362.7 L262.6,366.5 L272.6,365.3 L280.1,361.5 L287.6,360.2 L293.9,356.5 L300.2,357.7 L305.2,360.2 L311.5,356.5 L312.7,352.7 L317.7,347.7 L320.2,340.2 L322.7,333.9 L326.5,327.6 L331.5,322.6 L337.8,317.6 L345.3,310.1 L352.8,303.8 L360.4,298.8 L367.9,293.8 L376.7,290.5 L385.4,290 L393,288.8 L398,288.8 L403,292.5 L410.5,295 L415.5,300.1 L420.5,303.8 L428.1,305.1 L435.6,303.8 L444.4,303.8 L445.6,299.6 L440.6,295 L438.1,290 L440.6,283.8 L444.4,282 L445.6,280 L443.1,280.5M444.4,303.8 L453.1,306.3 L460.7,310.1 L468.2,315.1 L473.2,322.6 L474.5,330.2 L470.7,337.7 L465.7,340.2 L460.7,347.7 L465.7,352.7 L470.7,357.7 L477,362.7 L475,362.7M311.5,356.5 L317.7,357.7 L325.3,359 L332.8,360.7 L340.3,364 L347.8,366.5 L354.1,367.8 L355.3,371.5 L350.3,375.3 L345.3,379 L340.3,380.8 L342.8,382.8 L350.3,379 L357.9,375.3 L365.4,373.3 L372.9,372.3 L380.4,371.5 L385.4,370.3 L386.7,365.3 L384.2,360.2 L385.4,356.5 L381.7,352.7 L380.4,346.4 L376.7,341.4 L372.9,336.4 L367.9,331.4 L362.9,326.4 L361.6,321.4 L364.1,315.1 L365.4,310.1 L364.1,305.1 L360.4,298.8M255,362.7 L253.8,362.7 L253.8,370.3 L252.5,377.8 L256.3,382.8 L258.8,390.3 L265.1,392.8 L266.3,400.4 L270.1,405.4 L275.1,410.4 L281.4,415.4 L290.2,416.7 L293.9,412.9 L291.4,420.4 L292.7,427.9 L295.2,430.5 L285.1,430.5 L281.4,435.5 L277.6,438 L282.6,443 L285.1,448 L281.4,450.5 L277.6,455.5 L275.1,459.3 L276.4,460M276.4,460 L267.6,460.5 L260.1,463.8 L250,470.1 L243.8,477.6 L242.5,485.1 L243.8,492.6 L240,496.4 L237,498.9M276.4,460 L282.6,463.8 L290.2,468.8 L297.7,473.8 L305.2,478.8 L312.7,481.3 L317.7,481.3 L325.3,480.6 L332.8,481.3 L342.8,480.1 L350.3,478.8 L357.9,477.6 L362.9,476.3 L367.9,475.1 L372.9,476.3 L380.4,475.1 L387.9,476.3 L395.5,475.1 L403,472.6 L409.3,473.1 L415.5,475.1 L419.3,480.1 L420.5,487.6 L419.3,493.9 L416.8,498.9 L420.5,501.4 L428.1,502.7M428.1,502.7 L433.1,497.6 L438.1,491.4 L445.6,487.6 L453.1,485.1 L460.7,481.3 L465.7,482.6 L470.7,483.9 L470,485.1M428.1,502.7 L434.3,507.7 L440.6,511.4 L446.9,514.7 L449.4,522.7 L453.1,530.2 L456.9,537.8 L461.9,541.5 L468.2,544.8 L469.4,544.8M600.5,194.2 L601.6,194.8 L604.2,200.3 L605.4,207.8 L604.9,215.3 L602.9,222.9 L601.6,230.4 L600.4,237.9 L599.1,245.4 L595.4,250.5 L590.4,255.5 L585.3,259.2 L581.6,264.2 L584.1,269.3 L587.9,273 L584.1,278 L581.6,283 L581.6,280M581.6,283 L581.6,280 L582.8,287.5 L584.1,292.5 L580.3,297.6 L576.6,301.3 L575.3,306.3 L577.8,312.6 L578.3,320.1 L576.6,327.1M576.6,327.1 L580.3,331.4 L585.3,335.2 L590.4,339.7 L592.9,340.2M576.6,327.1 L570.3,327.6 L564,327.1 L557.8,326.4 L552.7,323.9 L549,327.6 L545.2,331.4 L541.5,332.7 L542.7,336.4 L546.5,340.2 L545.2,345.2 L544,349 L546.5,351.5 L542.7,355.2 L537.7,359 L532.7,360.2 L530.2,366.5 L526.4,371.5 L520.2,374 L517.6,377.8 L516.4,382.8 L512.6,384.1 L510.1,379 L505.1,376.5 L500.1,375.8 L495.1,377.8M480,365.3 L485,364 L490.1,367.8 L495.1,370.3 L500.1,374 L495.1,376.5 L487.6,375.3 L482.5,372.8 L480,365.3M470.7,357.7 L470,360.2 L475,362.7 L480,365.3M495.1,377.8 L492.6,382.8 L490.1,390.3 L487.6,395.3 L482.5,399.1 L477.5,402.9 L475.5,407.9 L476.3,414.2 L480,417.4 L487.6,419.2 L493.8,421.7 L495.1,427.9 L492.6,434.2 L491.3,439.2 L495.1,444.2 L500.1,445.5 L506.4,445.5 L508.9,450.5 L508.9,458 L507.6,461.8 L505.1,463.8M518.9,516 L513.9,511.5 L508.9,506.4 L505.1,500.2 L503.9,495.2 L507.1,490.2 L505.1,485.1 L501.3,481.4 L500.1,477.6 L502.6,472.6 L503.9,467.6 L505.1,463.8M470.7,483.9 L470,485.1 L475,482.6 L477.5,477.6 L477.5,470.1 L480,463.8 L486.3,459.6 L493.8,457.6 L500.1,459.6 L505.1,463.8M158,135.2 L159.2,135.1 L156.7,141.4 L151.7,146.4 L153,149M151.7,146.4 L153,149 L157.5,155 L161.2,159.5 L164.2,162.5 L168,162.5 L169.5,164.8 L166.5,167.8 L163.5,169.2 L162.8,172.2 L165,175.2 L168.8,179 L174,179.8M174,179.8 L180,179 L186,178.2 L192,176.8 L195,173 L198,170.8 L201.8,170.8 L205.5,172.2 L209.2,170.8 L213,171.5 L216,169.2 L219.8,170 L222,172.2 L225,174.5 L229.5,176 L231.8,173.8 L234,171.5 L240,171.5 L240,172.7M168.8,179 L169.5,181.2 L165.8,185 L162,189.5 L159,193.2 L157.5,198.5 L158.2,203 L157.5,206.8 L162.8,208.2 L167.2,209 L170.2,212 L171,216.5 L176.2,218 L175.5,221.8 L172.5,225.5 L168,228.5 L163.5,231.5 L160.5,235.2 L159,238.2 L161.2,241.2 L164.2,243.5 L163,244.9M520.2,177 L518,179.2 L515.8,182.2 L514.2,186 L512.8,189.8 L509.8,192.8 L506,194.2 L502.2,195.8 L498.5,197.7 L494.8,200.2 L491,203.2 L488.8,207 L487.2,211.5 L485,216 L483.2,220.5 L482,225 L482.8,229.5 L484.2,234 L486.5,237 L488,239.2 L485.8,242.2 L482.8,246 L479,248.2 L474.5,247.5 L470,246M381.7,150.2 L382.2,149.2 L381.5,152.5 L379.2,155.5 L377,157 L376.2,160 L379.2,162.2 L380.8,166 L382.2,169.8 L383.8,173.5 L387.5,175 L390.5,177.2 L389.8,179.5 L386,181 L383.8,183.2 L383,187 L385.2,190 L389,192.2 L393.5,194.5 L396.5,196.8 L399.5,199 L402.5,201.2 L407,202 L410,201.2 L414.5,199.8 L419,199 L422,199.8M461.8,148 L459.5,152.5 L456.5,156.2 L453.5,159.2 L452.8,163 L449.8,167.5 L446.8,170.5 L446,175 L441.5,177.2 L437,178 L434.8,180.2 L433.2,184 L432.5,188.5 L431.8,192.2 L430.2,196 L426.5,198.2 L423.5,197.5 L422,199.8M365.8,157 L369.5,155.5 L374,154.8 L374.8,159.2 L373.2,162.2 L368.8,163.3 L365.8,163 L365,160 L365.8,157M374.8,181 L377,178 L380.8,177.7 L383,180.2 L382.2,183.2 L378.5,184.8 L375.5,183.7 L374.8,181M398.8,190 L401.8,188.2 L407,187.8 L411.5,189.2 L416,190.8 L415.2,193.8 L416.8,196.8 L413,197.5 L408.5,196.8 L404,196 L400.2,193.8 L398.8,190M407.8,202 L413,201.2 L419,201.7 L424.2,201.2 L425,205 L424.2,208 L419,208.8 L413,208.3 L408.5,207.2 L407.8,202M386,199 L390.5,198.2 L395,199 L399.5,199.8 L401.8,202 L407.8,202.8 L408.5,207.2 L413,208.3 L419,208.8 L425,208 L429.5,210.2 L434,211.8 L438.5,213.2 L441.5,216.2 L446,218.5 L450.5,220 L455,223 L459.5,226 L464,228.2 L465.5,230.5 L464.8,232.8 L461,233.5 L456.5,235 L453.5,237.2 L454.2,240.2 L456.5,243.2M386,199 L383.8,203.5 L386,208 L385.2,213.2 L386,217 L384.5,221.5 L383.8,226 L385.2,230.5 L389,233.5 L392.8,236.5 L395,239.5 L398,241 L401.8,238.8 L403.2,235 L406.2,235.8 L407.8,239.5 L410,241.8 L414.5,241.8 L417.5,238 L419,234.2 L423.5,233.5 L428,232.8 L431.8,233.5 L434,235.8 L438.5,236.5 L440,240.2 L442.2,244 L446,246.2 L452,247 L456.5,243.2" fill="none" stroke="#222" stroke-width="1.8" stroke-linejoin="round"/>
<path d="M53.2,250.5 L57.7,246.7 L65.2,241.7 L75.2,236.7 L85.3,234.2 L91.5,236.7 L94,240.4 L97.8,242.9 L94,247.9 L91.5,250.5 L95.3,254.2 L102.8,253.5 L110.3,250.5 L112.8,247.9 L120.4,249.2 L127.9,251.7 L135.4,253 L140.4,250.5 L147.9,249.9 L155.5,245.4 L163,244.9 L173,244.2 L180.5,242.9 L186.8,246.7 L186.8,255.5 L189.3,263 L198.1,265.5 L206.9,270.5 L203.1,278 L201.9,280 L198.1,286.3 L190.6,291.3 L181.8,296.3 L175.5,302.6 L171.8,306.3 L165.5,307.6 L169.3,311.3 L171.8,317.6 L170.5,327.6 L173,335.2 L170.5,342.7 L171.8,350.2 L173,355.2 L170.5,359 L160.5,360.2 L159.2,365.3 L163,372.8 L166.8,376.5 L165.5,385.3 L161.7,391.6 L159.2,397.4 L147.9,397.9 L137.9,398.4 L130.4,397.9 L135.4,404.1 L141.7,410.4 L142.9,416.7 L145.4,422.9 L149.2,429.2 L154.2,431.7 L160.5,434.2 L163,439.2 L160.5,445.5 L156.7,450.5 L150.5,455.5 L145.4,460.5 L144.9,468.1 L142.9,478.1 L146.7,482.6 L153,491.4 L163,493.9 L160.5,503.9 L153,504.7 L146.7,506.4 L142.9,515.2 L136.7,524 L131.6,534 L134.2,542.8 L136.7,557.8M461.7,148 L464,152.5 L468.5,152.8 L470,156 L474.5,153 L480.5,153.8 L483.5,156 L483.2,160.5 L480.5,164.2 L479,168 L481.2,170.2 L485,169.5 L485.8,165.8 L488,165 L489.2,168 L491,169.8 L495.5,171.3 L501.5,173.7 L507.5,176.2 L513.5,177 L518,176.2 L520.2,177 L521,180 L523.2,182.2 L527,185.2 L530,187.5 L533,186 L536,186.8 L539,186 L542.8,184.8 L546.5,185.7 L549.5,187.5 L553.2,189.8 L557,192.8 L560,194.7 L563.8,194.7 L567.5,193.5 L572,192.8 L575,193.2 L578,195 L581,194.2 L584,193.5 L587,194.7 L591.5,194.7 L596,194.7 L600.5,194.2 L600.5,189 L601.2,185.2 L603,183.8 L607.5,185.2 L613.5,187.5 L619.5,188.2 L624,189 L627.8,191.2 L630,192.8 L634.5,192.8 L639.8,193.2 L642.8,195.8 L645,200.2 L645.8,205.5 L646.5,210 L649.5,211.8 L654,211.2 L658.5,208.8 L663,208.2 L667.5,208.8 L672,210 L675.8,210 L678,209.2 L677.2,211.5 L675,212.2 L675.8,215.2 L678,217.5 L681.8,217.2 L685.5,215.2 L690,213 L693.8,212.7 L697.5,213.8 L702,216 L705.8,218.2 L709.5,218.7 L713.2,217.5 L716.2,215.2 L720,213.8 L723,212.2 L727.5,210.8 L732,209.7 L736.5,210 L741,211.2 L744.3,212.7 L744.2,212.2" fill="none" stroke="#222" stroke-width="1.9" stroke-linejoin="round"/>
</g>
<path d="M0.5,60.3 H850.5 V730.5 H0.5 Z" fill="none" stroke="#000" stroke-width="1.1"/>
<!-- footer texts -->
<g class="cp">
<text x="23.1" y="725.3" style="font-size:16.5px">©</text>
<text x="39.4" y="722" textLength="138" lengthAdjust="spacing" style="font-size:9.4px">Agencia Estatal de Meteorología</text>
</g>
<text x="250.5" y="723" class="ft" textLength="352.5" lengthAdjust="spacing">Nevada en 24 h media. Validez: 20260212 Pasada modelo: 2026021000</text>
<!-- logo -->
<g>
<rect x="755" y="680" width="87" height="45" fill="#fff"/>
<g style="font-family:'DejaVu Sans','Liberation Sans',sans-serif;font-weight:200;font-style:normal;stroke-width:0.55;stroke-linejoin:round">
<text transform="translate(757.6,711.2) skewX(-13)" style="font-size:36px;fill:#1c3f9e;stroke:#1c3f9e" textLength="20" lengthAdjust="spacingAndGlyphs">A</text>
<text transform="translate(781.6,710.8) skewX(-5)" style="font-size:31.5px;fill:#c23a2c;stroke:#c23a2c" textLength="17.5" lengthAdjust="spacingAndGlyphs">E</text>
<text transform="translate(793.4,708.8) skewX(-10)" style="font-size:21.5px;fill:#3f68b8;stroke:#3f68b8" textLength="17.5" lengthAdjust="spacingAndGlyphs">M</text>
<text transform="translate(811.6,708.2) skewX(-10)" style="font-size:17.5px;fill:#3f68b8;stroke:#3f68b8" textLength="10.5" lengthAdjust="spacingAndGlyphs">e</text>
<text transform="translate(821.5,709.8) skewX(-12)" style="font-size:29px;fill:#3f68b8;stroke:#3f68b8" textLength="14.5" lengthAdjust="spacingAndGlyphs">t</text>
</g>
<path d="M761.5,710 C767,702 778,698.5 791.5,698" fill="none" stroke="#f6c915" stroke-width="1.9" stroke-linecap="round"/>
<text x="759" y="720.2" textLength="74.5" lengthAdjust="spacingAndGlyphs" style="font-family:'Liberation Sans',sans-serif;font-size:5.7px;font-weight:bold;fill:#4a72bd;">Agencia Estatal de Meteorología</text>
</g>
<!-- legend -->
<rect x="862" y="70.5" width="110" height="654.5" rx="3" ry="3" fill="#858585"/>
<rect x="859.5" y="68" width="109.7" height="654.3" rx="3" ry="3" fill="#fff" stroke="#d2d2d2" stroke-width="1"/>
<text x="913.8" y="86" text-anchor="middle" class="lt">mm</text>
<text x="889.0" y="113.30" class="ll">&lt; 0.5</text>
<rect x="864" y="127.90" width="15" height="27.7" fill="#A9DDE3"/>
<text x="889.0" y="145.77" class="ll">0.5 - 1</text>
<rect x="864" y="160.37" width="15" height="27.7" fill="#33F0DC"/>
<text x="889.0" y="178.24" class="ll">1 - 2</text>
<rect x="864" y="192.84" width="15" height="27.7" fill="#00CC88"/>
<text x="889.0" y="210.71" class="ll">2 - 5</text>
<rect x="864" y="225.31" width="15" height="27.7" fill="#00B140"/>
<text x="889.0" y="243.18" class="ll">5 - 10</text>
<rect x="864" y="257.78" width="15" height="27.7" fill="#009A00"/>
<text x="889.0" y="275.65" class="ll">10 - 15</text>
<rect x="864" y="290.25" width="15" height="27.7" fill="#33AA00"/>
<text x="889.0" y="308.12" class="ll">15 - 20</text>
<rect x="864" y="322.72" width="15" height="27.7" fill="#80CC00"/>
<text x="889.0" y="340.59" class="ll">20 - 30</text>
<rect x="864" y="355.19" width="15" height="27.7" fill="#C3E600"/>
<text x="889.0" y="373.06" class="ll">30 - 40</text>
<rect x="864" y="387.66" width="15" height="27.7" fill="#FFFF00"/>
<text x="889.0" y="405.53" class="ll">40 - 60</text>
<rect x="864" y="420.13" width="15" height="27.7" fill="#FFB914"/>
<text x="889.0" y="438.00" class="ll">60 - 80</text>
<rect x="864" y="452.60" width="15" height="27.7" fill="#FF7A00"/>
<text x="889.0" y="470.47" class="ll">80 - 100</text>
<rect x="864" y="485.07" width="15" height="27.7" fill="#FF3F00"/>
<text x="889.0" y="502.94" class="ll">100 - 120</text>
<rect x="864" y="517.54" width="15" height="27.7" fill="#FF0000"/>
<text x="889.0" y="535.41" class="ll">120 - 180</text>
<rect x="864" y="550.01" width="15" height="27.7" fill="#CD5258"/>
<text x="889.0" y="567.88" class="ll">180 - 250</text>
<rect x="864" y="582.48" width="15" height="27.7" fill="#DC8B90"/>
<text x="889.0" y="600.35" class="ll">250 - 300</text>
<rect x="864" y="614.95" width="15" height="27.7" fill="#EEC4C4"/>
<text x="889.0" y="632.82" class="ll">300 &gt;</text>
</svg>
</body>
</html>
